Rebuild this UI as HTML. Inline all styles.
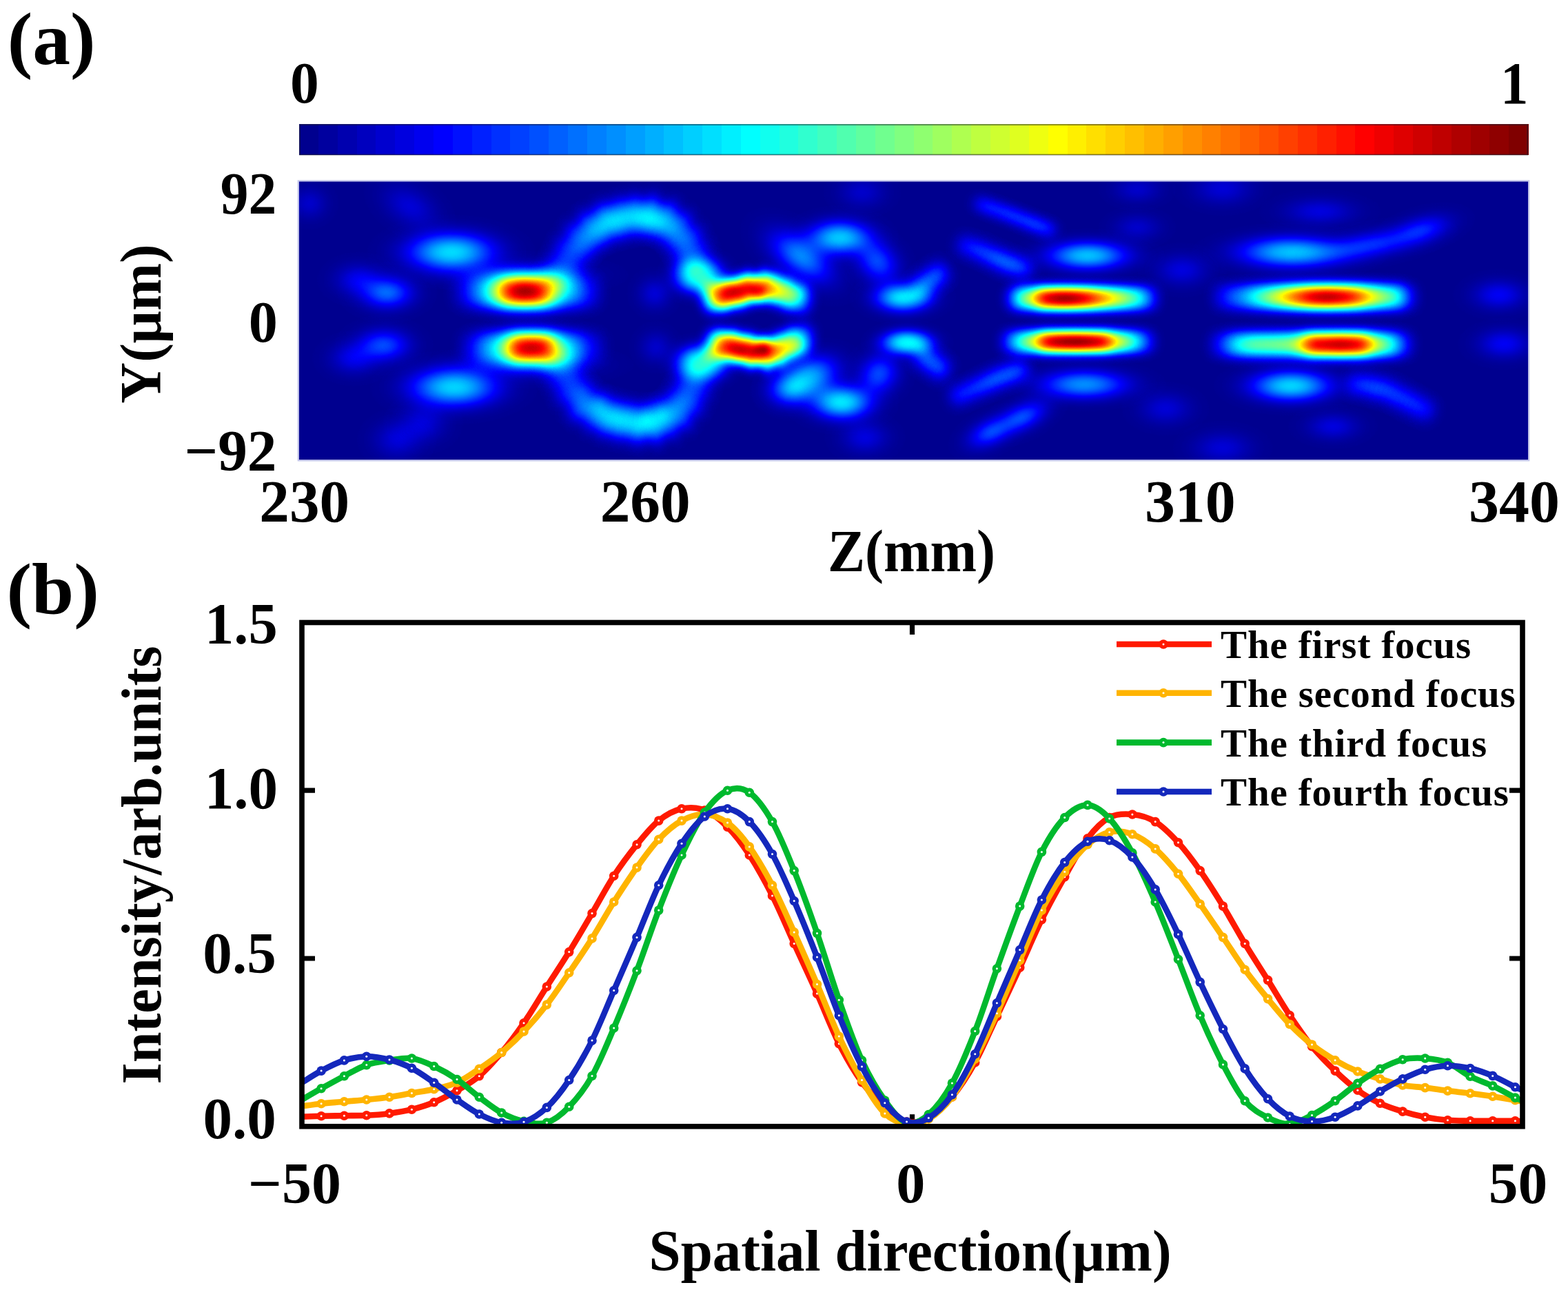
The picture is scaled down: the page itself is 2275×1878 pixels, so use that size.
<!DOCTYPE html><html><head><meta charset="utf-8"><title>figure</title><style>html,body{margin:0;padding:0;background:#fff}body{width:2275px;height:1878px;overflow:hidden;position:relative}svg{position:absolute;left:0;top:0;display:block}#hm ellipse{mix-blend-mode:plus-lighter}</style></head><body>
<svg width="2275" height="1878" viewBox="0 0 2275 1878">
<defs>
<radialGradient id="w100"><stop offset="0.000" stop-color="#fff" stop-opacity="1.0000"/><stop offset="0.042" stop-color="#fff" stop-opacity="0.9912"/><stop offset="0.083" stop-color="#fff" stop-opacity="0.9651"/><stop offset="0.125" stop-color="#fff" stop-opacity="0.9231"/><stop offset="0.167" stop-color="#fff" stop-opacity="0.8674"/><stop offset="0.208" stop-color="#fff" stop-opacity="0.8007"/><stop offset="0.250" stop-color="#fff" stop-opacity="0.7261"/><stop offset="0.292" stop-color="#fff" stop-opacity="0.6469"/><stop offset="0.333" stop-color="#fff" stop-opacity="0.5662"/><stop offset="0.375" stop-color="#fff" stop-opacity="0.4868"/><stop offset="0.417" stop-color="#fff" stop-opacity="0.4111"/><stop offset="0.458" stop-color="#fff" stop-opacity="0.3411"/><stop offset="0.500" stop-color="#fff" stop-opacity="0.2780"/><stop offset="0.542" stop-color="#fff" stop-opacity="0.2226"/><stop offset="0.583" stop-color="#fff" stop-opacity="0.1751"/><stop offset="0.625" stop-color="#fff" stop-opacity="0.1353"/><stop offset="0.667" stop-color="#fff" stop-opacity="0.1027"/><stop offset="0.708" stop-color="#fff" stop-opacity="0.0766"/><stop offset="0.750" stop-color="#fff" stop-opacity="0.0561"/><stop offset="0.792" stop-color="#fff" stop-opacity="0.0404"/><stop offset="0.833" stop-color="#fff" stop-opacity="0.0286"/><stop offset="0.875" stop-color="#fff" stop-opacity="0.0198"/><stop offset="0.917" stop-color="#fff" stop-opacity="0.0135"/><stop offset="0.958" stop-color="#fff" stop-opacity="0.0091"/><stop offset="1.000" stop-color="#fff" stop-opacity="0.0060"/></radialGradient>
<radialGradient id="w110"><stop offset="0.000" stop-color="#fff" stop-opacity="1.0000"/><stop offset="0.042" stop-color="#fff" stop-opacity="0.9945"/><stop offset="0.083" stop-color="#fff" stop-opacity="0.9749"/><stop offset="0.125" stop-color="#fff" stop-opacity="0.9397"/><stop offset="0.167" stop-color="#fff" stop-opacity="0.8896"/><stop offset="0.208" stop-color="#fff" stop-opacity="0.8260"/><stop offset="0.250" stop-color="#fff" stop-opacity="0.7516"/><stop offset="0.292" stop-color="#fff" stop-opacity="0.6698"/><stop offset="0.333" stop-color="#fff" stop-opacity="0.5841"/><stop offset="0.375" stop-color="#fff" stop-opacity="0.4982"/><stop offset="0.417" stop-color="#fff" stop-opacity="0.4154"/><stop offset="0.458" stop-color="#fff" stop-opacity="0.3384"/><stop offset="0.500" stop-color="#fff" stop-opacity="0.2693"/><stop offset="0.542" stop-color="#fff" stop-opacity="0.2092"/><stop offset="0.583" stop-color="#fff" stop-opacity="0.1586"/><stop offset="0.625" stop-color="#fff" stop-opacity="0.1172"/><stop offset="0.667" stop-color="#fff" stop-opacity="0.0845"/><stop offset="0.708" stop-color="#fff" stop-opacity="0.0594"/><stop offset="0.750" stop-color="#fff" stop-opacity="0.0407"/><stop offset="0.792" stop-color="#fff" stop-opacity="0.0272"/><stop offset="0.833" stop-color="#fff" stop-opacity="0.0177"/><stop offset="0.875" stop-color="#fff" stop-opacity="0.0112"/><stop offset="0.917" stop-color="#fff" stop-opacity="0.0069"/><stop offset="0.958" stop-color="#fff" stop-opacity="0.0041"/><stop offset="1.000" stop-color="#fff" stop-opacity="0.0024"/></radialGradient>
<radialGradient id="w110"><stop offset="0.000" stop-color="#fff" stop-opacity="1.0000"/><stop offset="0.042" stop-color="#fff" stop-opacity="0.9945"/><stop offset="0.083" stop-color="#fff" stop-opacity="0.9749"/><stop offset="0.125" stop-color="#fff" stop-opacity="0.9397"/><stop offset="0.167" stop-color="#fff" stop-opacity="0.8896"/><stop offset="0.208" stop-color="#fff" stop-opacity="0.8260"/><stop offset="0.250" stop-color="#fff" stop-opacity="0.7516"/><stop offset="0.292" stop-color="#fff" stop-opacity="0.6698"/><stop offset="0.333" stop-color="#fff" stop-opacity="0.5841"/><stop offset="0.375" stop-color="#fff" stop-opacity="0.4982"/><stop offset="0.417" stop-color="#fff" stop-opacity="0.4154"/><stop offset="0.458" stop-color="#fff" stop-opacity="0.3384"/><stop offset="0.500" stop-color="#fff" stop-opacity="0.2693"/><stop offset="0.542" stop-color="#fff" stop-opacity="0.2092"/><stop offset="0.583" stop-color="#fff" stop-opacity="0.1586"/><stop offset="0.625" stop-color="#fff" stop-opacity="0.1172"/><stop offset="0.667" stop-color="#fff" stop-opacity="0.0845"/><stop offset="0.708" stop-color="#fff" stop-opacity="0.0594"/><stop offset="0.750" stop-color="#fff" stop-opacity="0.0407"/><stop offset="0.792" stop-color="#fff" stop-opacity="0.0272"/><stop offset="0.833" stop-color="#fff" stop-opacity="0.0177"/><stop offset="0.875" stop-color="#fff" stop-opacity="0.0112"/><stop offset="0.917" stop-color="#fff" stop-opacity="0.0069"/><stop offset="0.958" stop-color="#fff" stop-opacity="0.0041"/><stop offset="1.000" stop-color="#fff" stop-opacity="0.0024"/></radialGradient>
<radialGradient id="w120"><stop offset="0.000" stop-color="#fff" stop-opacity="1.0000"/><stop offset="0.042" stop-color="#fff" stop-opacity="0.9965"/><stop offset="0.083" stop-color="#fff" stop-opacity="0.9819"/><stop offset="0.125" stop-color="#fff" stop-opacity="0.9529"/><stop offset="0.167" stop-color="#fff" stop-opacity="0.9082"/><stop offset="0.208" stop-color="#fff" stop-opacity="0.8483"/><stop offset="0.250" stop-color="#fff" stop-opacity="0.7751"/><stop offset="0.292" stop-color="#fff" stop-opacity="0.6915"/><stop offset="0.333" stop-color="#fff" stop-opacity="0.6016"/><stop offset="0.375" stop-color="#fff" stop-opacity="0.5096"/><stop offset="0.417" stop-color="#fff" stop-opacity="0.4197"/><stop offset="0.458" stop-color="#fff" stop-opacity="0.3358"/><stop offset="0.500" stop-color="#fff" stop-opacity="0.2606"/><stop offset="0.542" stop-color="#fff" stop-opacity="0.1960"/><stop offset="0.583" stop-color="#fff" stop-opacity="0.1427"/><stop offset="0.625" stop-color="#fff" stop-opacity="0.1005"/><stop offset="0.667" stop-color="#fff" stop-opacity="0.0684"/><stop offset="0.708" stop-color="#fff" stop-opacity="0.0449"/><stop offset="0.750" stop-color="#fff" stop-opacity="0.0285"/><stop offset="0.792" stop-color="#fff" stop-opacity="0.0174"/><stop offset="0.833" stop-color="#fff" stop-opacity="0.0102"/><stop offset="0.875" stop-color="#fff" stop-opacity="0.0058"/><stop offset="0.917" stop-color="#fff" stop-opacity="0.0032"/><stop offset="0.958" stop-color="#fff" stop-opacity="0.0016"/><stop offset="1.000" stop-color="#fff" stop-opacity="0.0008"/></radialGradient>
<radialGradient id="w130"><stop offset="0.000" stop-color="#fff" stop-opacity="1.0000"/><stop offset="0.042" stop-color="#fff" stop-opacity="0.9978"/><stop offset="0.083" stop-color="#fff" stop-opacity="0.9870"/><stop offset="0.125" stop-color="#fff" stop-opacity="0.9632"/><stop offset="0.167" stop-color="#fff" stop-opacity="0.9238"/><stop offset="0.208" stop-color="#fff" stop-opacity="0.8680"/><stop offset="0.250" stop-color="#fff" stop-opacity="0.7966"/><stop offset="0.292" stop-color="#fff" stop-opacity="0.7122"/><stop offset="0.333" stop-color="#fff" stop-opacity="0.6186"/><stop offset="0.375" stop-color="#fff" stop-opacity="0.5208"/><stop offset="0.417" stop-color="#fff" stop-opacity="0.4240"/><stop offset="0.458" stop-color="#fff" stop-opacity="0.3331"/><stop offset="0.500" stop-color="#fff" stop-opacity="0.2520"/><stop offset="0.542" stop-color="#fff" stop-opacity="0.1832"/><stop offset="0.583" stop-color="#fff" stop-opacity="0.1277"/><stop offset="0.625" stop-color="#fff" stop-opacity="0.0852"/><stop offset="0.667" stop-color="#fff" stop-opacity="0.0544"/><stop offset="0.708" stop-color="#fff" stop-opacity="0.0331"/><stop offset="0.750" stop-color="#fff" stop-opacity="0.0191"/><stop offset="0.792" stop-color="#fff" stop-opacity="0.0105"/><stop offset="0.833" stop-color="#fff" stop-opacity="0.0055"/><stop offset="0.875" stop-color="#fff" stop-opacity="0.0027"/><stop offset="0.917" stop-color="#fff" stop-opacity="0.0013"/><stop offset="0.958" stop-color="#fff" stop-opacity="0.0006"/><stop offset="1.000" stop-color="#fff" stop-opacity="0.0002"/></radialGradient>
<radialGradient id="w140"><stop offset="0.000" stop-color="#fff" stop-opacity="1.0000"/><stop offset="0.042" stop-color="#fff" stop-opacity="0.9987"/><stop offset="0.083" stop-color="#fff" stop-opacity="0.9907"/><stop offset="0.125" stop-color="#fff" stop-opacity="0.9713"/><stop offset="0.167" stop-color="#fff" stop-opacity="0.9369"/><stop offset="0.208" stop-color="#fff" stop-opacity="0.8854"/><stop offset="0.250" stop-color="#fff" stop-opacity="0.8164"/><stop offset="0.292" stop-color="#fff" stop-opacity="0.7317"/><stop offset="0.333" stop-color="#fff" stop-opacity="0.6351"/><stop offset="0.375" stop-color="#fff" stop-opacity="0.5319"/><stop offset="0.417" stop-color="#fff" stop-opacity="0.4283"/><stop offset="0.458" stop-color="#fff" stop-opacity="0.3304"/><stop offset="0.500" stop-color="#fff" stop-opacity="0.2435"/><stop offset="0.542" stop-color="#fff" stop-opacity="0.1707"/><stop offset="0.583" stop-color="#fff" stop-opacity="0.1136"/><stop offset="0.625" stop-color="#fff" stop-opacity="0.0714"/><stop offset="0.667" stop-color="#fff" stop-opacity="0.0424"/><stop offset="0.708" stop-color="#fff" stop-opacity="0.0236"/><stop offset="0.750" stop-color="#fff" stop-opacity="0.0123"/><stop offset="0.792" stop-color="#fff" stop-opacity="0.0060"/><stop offset="0.833" stop-color="#fff" stop-opacity="0.0027"/><stop offset="0.875" stop-color="#fff" stop-opacity="0.0011"/><stop offset="0.917" stop-color="#fff" stop-opacity="0.0004"/><stop offset="0.958" stop-color="#fff" stop-opacity="0.0002"/><stop offset="1.000" stop-color="#fff" stop-opacity="0.0001"/></radialGradient>
<filter id="jet" filterUnits="userSpaceOnUse" x="433.5" y="263.2" width="1784.0" height="404.40000000000003" color-interpolation-filters="sRGB"><feComponentTransfer><feFuncR type="table" tableValues="0.0000 0.0000 0.0000 0.0000 0.0000 0.0000 0.0000 0.0000 0.0000 0.0000 0.0000 0.0000 0.0000 0.0000 0.0000 0.0000 0.0000 0.0000 0.0000 0.0000 0.0000 0.0000 0.0000 0.0000 0.0625 0.1250 0.1875 0.2500 0.3125 0.3750 0.4375 0.5000 0.5625 0.6250 0.6875 0.7500 0.8125 0.8750 0.9375 1.0000 1.0000 1.0000 1.0000 1.0000 1.0000 1.0000 1.0000 1.0000 1.0000 1.0000 1.0000 1.0000 1.0000 1.0000 1.0000 1.0000 0.9375 0.8750 0.8125 0.7500 0.6875 0.6250 0.5625 0.5000"/><feFuncG type="table" tableValues="0.0000 0.0000 0.0000 0.0000 0.0000 0.0000 0.0000 0.0000 0.0625 0.1250 0.1875 0.2500 0.3125 0.3750 0.4375 0.5000 0.5625 0.6250 0.6875 0.7500 0.8125 0.8750 0.9375 1.0000 1.0000 1.0000 1.0000 1.0000 1.0000 1.0000 1.0000 1.0000 1.0000 1.0000 1.0000 1.0000 1.0000 1.0000 1.0000 1.0000 0.9375 0.8750 0.8125 0.7500 0.6875 0.6250 0.5625 0.5000 0.4375 0.3750 0.3125 0.2500 0.1875 0.1250 0.0625 0.0000 0.0000 0.0000 0.0000 0.0000 0.0000 0.0000 0.0000 0.0000"/><feFuncB type="table" tableValues="0.5625 0.6250 0.6875 0.7500 0.8125 0.8750 0.9375 1.0000 1.0000 1.0000 1.0000 1.0000 1.0000 1.0000 1.0000 1.0000 1.0000 1.0000 1.0000 1.0000 1.0000 1.0000 1.0000 1.0000 0.9375 0.8750 0.8125 0.7500 0.6875 0.6250 0.5625 0.5000 0.4375 0.3750 0.3125 0.2500 0.1875 0.1250 0.0625 0.0000 0.0000 0.0000 0.0000 0.0000 0.0000 0.0000 0.0000 0.0000 0.0000 0.0000 0.0000 0.0000 0.0000 0.0000 0.0000 0.0000 0.0000 0.0000 0.0000 0.0000 0.0000 0.0000 0.0000 0.0000"/><feFuncA type="identity"/></feComponentTransfer></filter>
<clipPath id="hmclip"><rect x="433.5" y="263.2" width="1784.0" height="404.40000000000003"/></clipPath>
<clipPath id="axclip"><rect x="438" y="883.5" width="1771" height="751.3"/></clipPath>
</defs>
<rect width="100%" height="100%" fill="#fff"/>
<g shape-rendering="crispEdges">
<rect x="434.00" y="180.2" width="28.46" height="45.20" fill="#00008f"/>
<rect x="461.86" y="180.2" width="28.46" height="45.20" fill="#00009f"/>
<rect x="489.73" y="180.2" width="28.46" height="45.20" fill="#0000af"/>
<rect x="517.59" y="180.2" width="28.46" height="45.20" fill="#0000bf"/>
<rect x="545.45" y="180.2" width="28.46" height="45.20" fill="#0000cf"/>
<rect x="573.31" y="180.2" width="28.46" height="45.20" fill="#0000df"/>
<rect x="601.17" y="180.2" width="28.46" height="45.20" fill="#0000ef"/>
<rect x="629.04" y="180.2" width="28.46" height="45.20" fill="#0000ff"/>
<rect x="656.90" y="180.2" width="28.46" height="45.20" fill="#0010ff"/>
<rect x="684.76" y="180.2" width="28.46" height="45.20" fill="#0020ff"/>
<rect x="712.62" y="180.2" width="28.46" height="45.20" fill="#0030ff"/>
<rect x="740.49" y="180.2" width="28.46" height="45.20" fill="#0040ff"/>
<rect x="768.35" y="180.2" width="28.46" height="45.20" fill="#0050ff"/>
<rect x="796.21" y="180.2" width="28.46" height="45.20" fill="#0060ff"/>
<rect x="824.07" y="180.2" width="28.46" height="45.20" fill="#0070ff"/>
<rect x="851.94" y="180.2" width="28.46" height="45.20" fill="#0080ff"/>
<rect x="879.80" y="180.2" width="28.46" height="45.20" fill="#008fff"/>
<rect x="907.66" y="180.2" width="28.46" height="45.20" fill="#009fff"/>
<rect x="935.52" y="180.2" width="28.46" height="45.20" fill="#00afff"/>
<rect x="963.39" y="180.2" width="28.46" height="45.20" fill="#00bfff"/>
<rect x="991.25" y="180.2" width="28.46" height="45.20" fill="#00cfff"/>
<rect x="1019.11" y="180.2" width="28.46" height="45.20" fill="#00dfff"/>
<rect x="1046.97" y="180.2" width="28.46" height="45.20" fill="#00efff"/>
<rect x="1074.84" y="180.2" width="28.46" height="45.20" fill="#00ffff"/>
<rect x="1102.70" y="180.2" width="28.46" height="45.20" fill="#10ffef"/>
<rect x="1130.56" y="180.2" width="28.46" height="45.20" fill="#20ffdf"/>
<rect x="1158.42" y="180.2" width="28.46" height="45.20" fill="#30ffcf"/>
<rect x="1186.29" y="180.2" width="28.46" height="45.20" fill="#40ffbf"/>
<rect x="1214.15" y="180.2" width="28.46" height="45.20" fill="#50ffaf"/>
<rect x="1242.01" y="180.2" width="28.46" height="45.20" fill="#60ff9f"/>
<rect x="1269.88" y="180.2" width="28.46" height="45.20" fill="#70ff8f"/>
<rect x="1297.74" y="180.2" width="28.46" height="45.20" fill="#80ff80"/>
<rect x="1325.60" y="180.2" width="28.46" height="45.20" fill="#8fff70"/>
<rect x="1353.46" y="180.2" width="28.46" height="45.20" fill="#9fff60"/>
<rect x="1381.32" y="180.2" width="28.46" height="45.20" fill="#afff50"/>
<rect x="1409.19" y="180.2" width="28.46" height="45.20" fill="#bfff40"/>
<rect x="1437.05" y="180.2" width="28.46" height="45.20" fill="#cfff30"/>
<rect x="1464.91" y="180.2" width="28.46" height="45.20" fill="#dfff20"/>
<rect x="1492.77" y="180.2" width="28.46" height="45.20" fill="#efff10"/>
<rect x="1520.64" y="180.2" width="28.46" height="45.20" fill="#ffff00"/>
<rect x="1548.50" y="180.2" width="28.46" height="45.20" fill="#ffef00"/>
<rect x="1576.36" y="180.2" width="28.46" height="45.20" fill="#ffdf00"/>
<rect x="1604.22" y="180.2" width="28.46" height="45.20" fill="#ffcf00"/>
<rect x="1632.09" y="180.2" width="28.46" height="45.20" fill="#ffbf00"/>
<rect x="1659.95" y="180.2" width="28.46" height="45.20" fill="#ffaf00"/>
<rect x="1687.81" y="180.2" width="28.46" height="45.20" fill="#ff9f00"/>
<rect x="1715.67" y="180.2" width="28.46" height="45.20" fill="#ff8f00"/>
<rect x="1743.54" y="180.2" width="28.46" height="45.20" fill="#ff8000"/>
<rect x="1771.40" y="180.2" width="28.46" height="45.20" fill="#ff7000"/>
<rect x="1799.26" y="180.2" width="28.46" height="45.20" fill="#ff6000"/>
<rect x="1827.12" y="180.2" width="28.46" height="45.20" fill="#ff5000"/>
<rect x="1854.99" y="180.2" width="28.46" height="45.20" fill="#ff4000"/>
<rect x="1882.85" y="180.2" width="28.46" height="45.20" fill="#ff3000"/>
<rect x="1910.71" y="180.2" width="28.46" height="45.20" fill="#ff2000"/>
<rect x="1938.57" y="180.2" width="28.46" height="45.20" fill="#ff1000"/>
<rect x="1966.44" y="180.2" width="28.46" height="45.20" fill="#ff0000"/>
<rect x="1994.30" y="180.2" width="28.46" height="45.20" fill="#ef0000"/>
<rect x="2022.16" y="180.2" width="28.46" height="45.20" fill="#df0000"/>
<rect x="2050.02" y="180.2" width="28.46" height="45.20" fill="#cf0000"/>
<rect x="2077.89" y="180.2" width="28.46" height="45.20" fill="#bf0000"/>
<rect x="2105.75" y="180.2" width="28.46" height="45.20" fill="#af0000"/>
<rect x="2133.61" y="180.2" width="28.46" height="45.20" fill="#9f0000"/>
<rect x="2161.47" y="180.2" width="28.46" height="45.20" fill="#8f0000"/>
<rect x="2189.34" y="180.2" width="28.46" height="45.20" fill="#800000"/>
</g>
<rect x="435.0" y="181.1" width="1781.1999999999998" height="43.40000000000002" fill="none" stroke="#202030" stroke-opacity="0.55" stroke-width="1.8"/>
<g clip-path="url(#hmclip)"><g id="hm" filter="url(#jet)">
<rect x="433.5" y="263.2" width="1784.0" height="404.40000000000003" fill="#000"/>
<ellipse cx="657.0" cy="424.0" rx="28.8" ry="59.2" fill="url(#w140)" fill-opacity="0.0086"/>
<ellipse cx="663.9" cy="424.0" rx="28.8" ry="59.2" fill="url(#w140)" fill-opacity="0.0171"/>
<ellipse cx="670.9" cy="424.0" rx="28.8" ry="59.2" fill="url(#w140)" fill-opacity="0.0266"/>
<ellipse cx="677.9" cy="424.0" rx="28.8" ry="59.2" fill="url(#w140)" fill-opacity="0.0417"/>
<ellipse cx="684.8" cy="424.0" rx="28.8" ry="59.2" fill="url(#w140)" fill-opacity="0.0568"/>
<ellipse cx="691.8" cy="424.0" rx="28.8" ry="59.2" fill="url(#w140)" fill-opacity="0.0729"/>
<ellipse cx="698.8" cy="424.0" rx="28.8" ry="59.2" fill="url(#w140)" fill-opacity="0.0894"/>
<ellipse cx="705.8" cy="424.0" rx="28.8" ry="59.2" fill="url(#w140)" fill-opacity="0.1088"/>
<ellipse cx="712.7" cy="424.0" rx="28.8" ry="59.2" fill="url(#w140)" fill-opacity="0.1355"/>
<ellipse cx="719.7" cy="424.0" rx="28.8" ry="59.2" fill="url(#w140)" fill-opacity="0.1667"/>
<ellipse cx="726.7" cy="424.0" rx="28.8" ry="59.2" fill="url(#w140)" fill-opacity="0.2029"/>
<ellipse cx="733.6" cy="424.0" rx="28.8" ry="59.2" fill="url(#w140)" fill-opacity="0.2433"/>
<ellipse cx="740.6" cy="424.0" rx="28.8" ry="59.2" fill="url(#w140)" fill-opacity="0.2711"/>
<ellipse cx="747.6" cy="424.0" rx="28.8" ry="59.2" fill="url(#w140)" fill-opacity="0.2799"/>
<ellipse cx="754.5" cy="424.0" rx="28.8" ry="59.2" fill="url(#w140)" fill-opacity="0.2888"/>
<ellipse cx="761.5" cy="424.0" rx="28.8" ry="59.2" fill="url(#w140)" fill-opacity="0.2976"/>
<ellipse cx="768.5" cy="424.0" rx="28.8" ry="59.2" fill="url(#w140)" fill-opacity="0.29"/>
<ellipse cx="775.5" cy="424.0" rx="28.8" ry="59.2" fill="url(#w140)" fill-opacity="0.2812"/>
<ellipse cx="782.4" cy="424.0" rx="28.8" ry="59.2" fill="url(#w140)" fill-opacity="0.2723"/>
<ellipse cx="789.4" cy="424.0" rx="28.8" ry="59.2" fill="url(#w140)" fill-opacity="0.2479"/>
<ellipse cx="796.4" cy="424.0" rx="28.8" ry="59.2" fill="url(#w140)" fill-opacity="0.2091"/>
<ellipse cx="803.3" cy="424.0" rx="28.8" ry="59.2" fill="url(#w140)" fill-opacity="0.1714"/>
<ellipse cx="810.3" cy="424.0" rx="28.8" ry="59.2" fill="url(#w140)" fill-opacity="0.1396"/>
<ellipse cx="817.3" cy="424.0" rx="28.8" ry="59.2" fill="url(#w140)" fill-opacity="0.112"/>
<ellipse cx="824.2" cy="424.0" rx="28.8" ry="59.2" fill="url(#w140)" fill-opacity="0.0942"/>
<ellipse cx="831.2" cy="424.0" rx="28.8" ry="59.2" fill="url(#w140)" fill-opacity="0.0843"/>
<ellipse cx="838.2" cy="424.0" rx="28.8" ry="59.2" fill="url(#w140)" fill-opacity="0.0742"/>
<ellipse cx="845.2" cy="424.0" rx="28.8" ry="59.2" fill="url(#w140)" fill-opacity="0.0584"/>
<ellipse cx="852.1" cy="424.0" rx="28.8" ry="59.2" fill="url(#w140)" fill-opacity="0.0427"/>
<ellipse cx="859.1" cy="424.0" rx="28.8" ry="59.2" fill="url(#w140)" fill-opacity="0.0301"/>
<ellipse cx="866.1" cy="424.0" rx="28.8" ry="59.2" fill="url(#w140)" fill-opacity="0.0187"/>
<ellipse cx="873.0" cy="424.0" rx="28.8" ry="59.2" fill="url(#w140)" fill-opacity="0.0086"/>
<ellipse cx="762" cy="399" rx="166.4" ry="38.4" fill="url(#w100)" fill-opacity="0.12"/>
<ellipse cx="667.0" cy="504.0" rx="28.8" ry="57.6" fill="url(#w140)" fill-opacity="0.0087"/>
<ellipse cx="674.1" cy="504.0" rx="28.8" ry="57.6" fill="url(#w140)" fill-opacity="0.0174"/>
<ellipse cx="681.1" cy="504.0" rx="28.8" ry="57.6" fill="url(#w140)" fill-opacity="0.0272"/>
<ellipse cx="688.1" cy="504.0" rx="28.8" ry="57.6" fill="url(#w140)" fill-opacity="0.0426"/>
<ellipse cx="695.2" cy="504.0" rx="28.8" ry="57.6" fill="url(#w140)" fill-opacity="0.058"/>
<ellipse cx="702.2" cy="504.0" rx="28.8" ry="57.6" fill="url(#w140)" fill-opacity="0.0744"/>
<ellipse cx="709.2" cy="504.0" rx="28.8" ry="57.6" fill="url(#w140)" fill-opacity="0.0912"/>
<ellipse cx="716.2" cy="504.0" rx="28.8" ry="57.6" fill="url(#w140)" fill-opacity="0.1052"/>
<ellipse cx="723.3" cy="504.0" rx="28.8" ry="57.6" fill="url(#w140)" fill-opacity="0.1218"/>
<ellipse cx="730.3" cy="504.0" rx="28.8" ry="57.6" fill="url(#w140)" fill-opacity="0.1521"/>
<ellipse cx="737.3" cy="504.0" rx="28.8" ry="57.6" fill="url(#w140)" fill-opacity="0.1902"/>
<ellipse cx="744.4" cy="504.0" rx="28.8" ry="57.6" fill="url(#w140)" fill-opacity="0.2347"/>
<ellipse cx="751.4" cy="504.0" rx="28.8" ry="57.6" fill="url(#w140)" fill-opacity="0.2718"/>
<ellipse cx="758.4" cy="504.0" rx="28.8" ry="57.6" fill="url(#w140)" fill-opacity="0.2778"/>
<ellipse cx="765.5" cy="504.0" rx="28.8" ry="57.6" fill="url(#w140)" fill-opacity="0.2838"/>
<ellipse cx="772.5" cy="504.0" rx="28.8" ry="57.6" fill="url(#w140)" fill-opacity="0.2872"/>
<ellipse cx="779.5" cy="504.0" rx="28.8" ry="57.6" fill="url(#w140)" fill-opacity="0.2812"/>
<ellipse cx="786.6" cy="504.0" rx="28.8" ry="57.6" fill="url(#w140)" fill-opacity="0.2752"/>
<ellipse cx="793.6" cy="504.0" rx="28.8" ry="57.6" fill="url(#w140)" fill-opacity="0.2571"/>
<ellipse cx="800.6" cy="504.0" rx="28.8" ry="57.6" fill="url(#w140)" fill-opacity="0.2157"/>
<ellipse cx="807.7" cy="504.0" rx="28.8" ry="57.6" fill="url(#w140)" fill-opacity="0.1736"/>
<ellipse cx="814.7" cy="504.0" rx="28.8" ry="57.6" fill="url(#w140)" fill-opacity="0.1392"/>
<ellipse cx="821.7" cy="504.0" rx="28.8" ry="57.6" fill="url(#w140)" fill-opacity="0.1123"/>
<ellipse cx="828.8" cy="504.0" rx="28.8" ry="57.6" fill="url(#w140)" fill-opacity="0.096"/>
<ellipse cx="835.8" cy="504.0" rx="28.8" ry="57.6" fill="url(#w140)" fill-opacity="0.082"/>
<ellipse cx="842.8" cy="504.0" rx="28.8" ry="57.6" fill="url(#w140)" fill-opacity="0.0686"/>
<ellipse cx="849.8" cy="504.0" rx="28.8" ry="57.6" fill="url(#w140)" fill-opacity="0.0527"/>
<ellipse cx="856.9" cy="504.0" rx="28.8" ry="57.6" fill="url(#w140)" fill-opacity="0.0367"/>
<ellipse cx="863.9" cy="504.0" rx="28.8" ry="57.6" fill="url(#w140)" fill-opacity="0.0255"/>
<ellipse cx="870.9" cy="504.0" rx="28.8" ry="57.6" fill="url(#w140)" fill-opacity="0.0152"/>
<ellipse cx="878.0" cy="504.0" rx="28.8" ry="57.6" fill="url(#w140)" fill-opacity="0.0065"/>
<ellipse cx="770" cy="529" rx="166.4" ry="38.4" fill="url(#w100)" fill-opacity="0.12"/>
<ellipse cx="655" cy="366" rx="131.3" ry="58.6" fill="url(#w110)" fill-opacity="0.33"/>
<ellipse cx="659" cy="562" rx="131.3" ry="58.6" fill="url(#w110)" fill-opacity="0.32"/>
<ellipse cx="562" cy="425" rx="76.0" ry="46.8" fill="url(#w100)" fill-opacity="0.21"/>
<ellipse cx="557" cy="501" rx="76.0" ry="46.8" fill="url(#w100)" fill-opacity="0.18"/>
<ellipse cx="520" cy="406" rx="69.1" ry="46.8" fill="url(#w100)" fill-opacity="0.09"/>
<ellipse cx="513" cy="520" rx="69.1" ry="46.8" fill="url(#w100)" fill-opacity="0.09"/>
<ellipse cx="595" cy="300" rx="86.4" ry="54.7" fill="url(#w100)" fill-opacity="0.07" transform="rotate(30 595 300)"/>
<ellipse cx="449" cy="295" rx="51.8" ry="46.8" fill="url(#w100)" fill-opacity="0.06"/>
<ellipse cx="576" cy="638" rx="69.1" ry="54.7" fill="url(#w100)" fill-opacity="0.07"/>
<ellipse cx="614" cy="614" rx="69.1" ry="54.7" fill="url(#w100)" fill-opacity="0.07"/>
<ellipse cx="803.7" cy="412.1" rx="28.8" ry="60.8" fill="url(#w120)" fill-opacity="0.0317" transform="rotate(-58.0 803.7 412.1)"/>
<ellipse cx="807.2" cy="406.1" rx="28.8" ry="60.8" fill="url(#w120)" fill-opacity="0.0438" transform="rotate(-60.6 807.2 406.1)"/>
<ellipse cx="810.6" cy="400.1" rx="28.8" ry="60.8" fill="url(#w120)" fill-opacity="0.045" transform="rotate(-60.6 810.6 400.1)"/>
<ellipse cx="814.0" cy="394.0" rx="28.8" ry="60.8" fill="url(#w120)" fill-opacity="0.0461" transform="rotate(-60.6 814.0 394.0)"/>
<ellipse cx="817.2" cy="387.9" rx="28.8" ry="60.8" fill="url(#w120)" fill-opacity="0.0481" transform="rotate(-62.2 817.2 387.9)"/>
<ellipse cx="820.5" cy="381.7" rx="28.8" ry="60.8" fill="url(#w120)" fill-opacity="0.0501" transform="rotate(-62.2 820.5 381.7)"/>
<ellipse cx="823.7" cy="375.6" rx="28.8" ry="60.8" fill="url(#w120)" fill-opacity="0.0521" transform="rotate(-62.2 823.7 375.6)"/>
<ellipse cx="827.1" cy="369.6" rx="28.8" ry="60.8" fill="url(#w120)" fill-opacity="0.0555" transform="rotate(-60.3 827.1 369.6)"/>
<ellipse cx="830.6" cy="363.5" rx="28.8" ry="60.8" fill="url(#w120)" fill-opacity="0.059" transform="rotate(-60.3 830.6 363.5)"/>
<ellipse cx="834.0" cy="357.5" rx="28.8" ry="60.8" fill="url(#w120)" fill-opacity="0.0625" transform="rotate(-60.3 834.0 357.5)"/>
<ellipse cx="838.0" cy="351.9" rx="28.8" ry="60.8" fill="url(#w120)" fill-opacity="0.0665" transform="rotate(-46.7 838.0 351.9)"/>
<ellipse cx="842.7" cy="346.8" rx="28.8" ry="60.8" fill="url(#w120)" fill-opacity="0.0711" transform="rotate(-46.7 842.7 346.8)"/>
<ellipse cx="847.5" cy="341.8" rx="28.8" ry="60.8" fill="url(#w120)" fill-opacity="0.0757" transform="rotate(-46.7 847.5 341.8)"/>
<ellipse cx="852.3" cy="336.8" rx="28.8" ry="60.8" fill="url(#w120)" fill-opacity="0.0803" transform="rotate(-31.4 852.3 336.8)"/>
<ellipse cx="858.3" cy="333.2" rx="28.8" ry="60.8" fill="url(#w120)" fill-opacity="0.0853" transform="rotate(-31.4 858.3 333.2)"/>
<ellipse cx="864.2" cy="329.6" rx="28.8" ry="60.8" fill="url(#w120)" fill-opacity="0.0904" transform="rotate(-31.4 864.2 329.6)"/>
<ellipse cx="870.1" cy="326.0" rx="28.8" ry="60.8" fill="url(#w120)" fill-opacity="0.0954" transform="rotate(-19.3 870.1 326.0)"/>
<ellipse cx="876.7" cy="323.7" rx="28.8" ry="60.8" fill="url(#w120)" fill-opacity="0.0984" transform="rotate(-19.3 876.7 323.7)"/>
<ellipse cx="883.2" cy="321.4" rx="28.8" ry="60.8" fill="url(#w120)" fill-opacity="0.1015" transform="rotate(-19.3 883.2 321.4)"/>
<ellipse cx="889.8" cy="319.1" rx="28.8" ry="60.8" fill="url(#w120)" fill-opacity="0.1045" transform="rotate(-19.3 889.8 319.1)"/>
<ellipse cx="896.5" cy="317.5" rx="28.8" ry="60.8" fill="url(#w120)" fill-opacity="0.1028" transform="rotate(-12.8 896.5 317.5)"/>
<ellipse cx="903.3" cy="316.0" rx="28.8" ry="60.8" fill="url(#w120)" fill-opacity="0.1009" transform="rotate(-12.8 903.3 316.0)"/>
<ellipse cx="910.1" cy="314.4" rx="28.8" ry="60.8" fill="url(#w120)" fill-opacity="0.099" transform="rotate(-12.8 910.1 314.4)"/>
<ellipse cx="916.9" cy="313.4" rx="28.8" ry="60.8" fill="url(#w120)" fill-opacity="0.1004" transform="rotate(-7.4 916.9 313.4)"/>
<ellipse cx="923.8" cy="312.5" rx="28.8" ry="60.8" fill="url(#w120)" fill-opacity="0.1032" transform="rotate(-7.4 923.8 312.5)"/>
<ellipse cx="930.7" cy="311.6" rx="28.8" ry="60.8" fill="url(#w120)" fill-opacity="0.1059" transform="rotate(-7.4 930.7 311.6)"/>
<ellipse cx="937.6" cy="311.4" rx="28.8" ry="60.8" fill="url(#w120)" fill-opacity="0.1069" transform="rotate(8.1 937.6 311.4)"/>
<ellipse cx="944.4" cy="312.3" rx="28.8" ry="60.8" fill="url(#w120)" fill-opacity="0.1049" transform="rotate(8.1 944.4 312.3)"/>
<ellipse cx="951.3" cy="313.3" rx="28.8" ry="60.8" fill="url(#w120)" fill-opacity="0.1029" transform="rotate(8.1 951.3 313.3)"/>
<ellipse cx="957.9" cy="315.1" rx="28.8" ry="60.8" fill="url(#w120)" fill-opacity="0.0999" transform="rotate(29.1 957.9 315.1)"/>
<ellipse cx="964.0" cy="318.4" rx="28.8" ry="60.8" fill="url(#w120)" fill-opacity="0.0947" transform="rotate(29.1 964.0 318.4)"/>
<ellipse cx="970.1" cy="321.8" rx="28.8" ry="60.8" fill="url(#w120)" fill-opacity="0.0895" transform="rotate(29.1 970.1 321.8)"/>
<ellipse cx="975.7" cy="325.7" rx="28.8" ry="60.8" fill="url(#w120)" fill-opacity="0.0846" transform="rotate(45.0 975.7 325.7)"/>
<ellipse cx="980.6" cy="330.6" rx="28.8" ry="60.8" fill="url(#w120)" fill-opacity="0.0803" transform="rotate(45.0 980.6 330.6)"/>
<ellipse cx="985.5" cy="335.5" rx="28.8" ry="60.8" fill="url(#w120)" fill-opacity="0.076" transform="rotate(45.0 985.5 335.5)"/>
<ellipse cx="989.8" cy="341.0" rx="28.8" ry="60.8" fill="url(#w120)" fill-opacity="0.0722" transform="rotate(59.5 989.8 341.0)"/>
<ellipse cx="993.3" cy="347.0" rx="28.8" ry="60.8" fill="url(#w120)" fill-opacity="0.069" transform="rotate(59.5 993.3 347.0)"/>
<ellipse cx="996.8" cy="352.9" rx="28.8" ry="60.8" fill="url(#w120)" fill-opacity="0.0657" transform="rotate(59.5 996.8 352.9)"/>
<ellipse cx="999.8" cy="359.2" rx="28.8" ry="60.8" fill="url(#w120)" fill-opacity="0.0619" transform="rotate(67.2 999.8 359.2)"/>
<ellipse cx="1002.5" cy="365.6" rx="28.8" ry="60.8" fill="url(#w120)" fill-opacity="0.0577" transform="rotate(67.2 1002.5 365.6)"/>
<ellipse cx="1005.2" cy="372.0" rx="28.8" ry="60.8" fill="url(#w120)" fill-opacity="0.0536" transform="rotate(67.2 1005.2 372.0)"/>
<ellipse cx="1007.6" cy="378.5" rx="28.8" ry="60.8" fill="url(#w120)" fill-opacity="0.0435" transform="rotate(70.0 1007.6 378.5)"/>
<ellipse cx="1010.0" cy="385.0" rx="28.8" ry="60.8" fill="url(#w120)" fill-opacity="0.0308" transform="rotate(70.0 1010.0 385.0)"/>
<ellipse cx="804.7" cy="518.0" rx="28.8" ry="60.8" fill="url(#w120)" fill-opacity="0.0329" transform="rotate(58.0 804.7 518.0)"/>
<ellipse cx="808.2" cy="524.2" rx="28.8" ry="60.8" fill="url(#w120)" fill-opacity="0.0447" transform="rotate(62.1 808.2 524.2)"/>
<ellipse cx="811.5" cy="530.4" rx="28.8" ry="60.8" fill="url(#w120)" fill-opacity="0.0458" transform="rotate(62.1 811.5 530.4)"/>
<ellipse cx="814.8" cy="536.7" rx="28.8" ry="60.8" fill="url(#w120)" fill-opacity="0.047" transform="rotate(62.1 814.8 536.7)"/>
<ellipse cx="818.0" cy="543.0" rx="28.8" ry="60.8" fill="url(#w120)" fill-opacity="0.0489" transform="rotate(63.4 818.0 543.0)"/>
<ellipse cx="821.2" cy="549.3" rx="28.8" ry="60.8" fill="url(#w120)" fill-opacity="0.0509" transform="rotate(63.4 821.2 549.3)"/>
<ellipse cx="824.3" cy="555.6" rx="28.8" ry="60.8" fill="url(#w120)" fill-opacity="0.0529" transform="rotate(63.4 824.3 555.6)"/>
<ellipse cx="827.9" cy="561.7" rx="28.8" ry="60.8" fill="url(#w120)" fill-opacity="0.0561" transform="rotate(58.2 827.9 561.7)"/>
<ellipse cx="831.6" cy="567.7" rx="28.8" ry="60.8" fill="url(#w120)" fill-opacity="0.0597" transform="rotate(58.2 831.6 567.7)"/>
<ellipse cx="835.4" cy="573.8" rx="28.8" ry="60.8" fill="url(#w120)" fill-opacity="0.0633" transform="rotate(58.2 835.4 573.8)"/>
<ellipse cx="839.5" cy="579.4" rx="28.8" ry="60.8" fill="url(#w120)" fill-opacity="0.0672" transform="rotate(43.3 839.5 579.4)"/>
<ellipse cx="844.7" cy="584.3" rx="28.8" ry="60.8" fill="url(#w120)" fill-opacity="0.072" transform="rotate(43.3 844.7 584.3)"/>
<ellipse cx="849.8" cy="589.1" rx="28.8" ry="60.8" fill="url(#w120)" fill-opacity="0.0767" transform="rotate(43.3 849.8 589.1)"/>
<ellipse cx="855.0" cy="594.0" rx="28.8" ry="60.8" fill="url(#w120)" fill-opacity="0.0815" transform="rotate(43.3 855.0 594.0)"/>
<ellipse cx="861.3" cy="597.1" rx="28.8" ry="60.8" fill="url(#w120)" fill-opacity="0.087" transform="rotate(26.6 861.3 597.1)"/>
<ellipse cx="867.6" cy="600.3" rx="28.8" ry="60.8" fill="url(#w120)" fill-opacity="0.0925" transform="rotate(26.6 867.6 600.3)"/>
<ellipse cx="874.0" cy="603.3" rx="28.8" ry="60.8" fill="url(#w120)" fill-opacity="0.0976" transform="rotate(16.7 874.0 603.3)"/>
<ellipse cx="880.8" cy="605.3" rx="28.8" ry="60.8" fill="url(#w120)" fill-opacity="0.1008" transform="rotate(16.7 880.8 605.3)"/>
<ellipse cx="887.6" cy="607.4" rx="28.8" ry="60.8" fill="url(#w120)" fill-opacity="0.104" transform="rotate(16.7 887.6 607.4)"/>
<ellipse cx="894.4" cy="609.3" rx="28.8" ry="60.8" fill="url(#w120)" fill-opacity="0.1064" transform="rotate(12.8 894.4 609.3)"/>
<ellipse cx="901.3" cy="610.9" rx="28.8" ry="60.8" fill="url(#w120)" fill-opacity="0.1054" transform="rotate(12.8 901.3 610.9)"/>
<ellipse cx="908.2" cy="612.4" rx="28.8" ry="60.8" fill="url(#w120)" fill-opacity="0.1044" transform="rotate(12.8 908.2 612.4)"/>
<ellipse cx="915.1" cy="614.0" rx="28.8" ry="60.8" fill="url(#w120)" fill-opacity="0.1035" transform="rotate(7.4 915.1 614.0)"/>
<ellipse cx="922.1" cy="614.9" rx="28.8" ry="60.8" fill="url(#w120)" fill-opacity="0.1063" transform="rotate(7.4 922.1 614.9)"/>
<ellipse cx="929.1" cy="615.8" rx="28.8" ry="60.8" fill="url(#w120)" fill-opacity="0.1092" transform="rotate(7.4 929.1 615.8)"/>
<ellipse cx="936.1" cy="616.8" rx="28.8" ry="60.8" fill="url(#w120)" fill-opacity="0.1121" transform="rotate(7.4 936.1 616.8)"/>
<ellipse cx="943.1" cy="616.2" rx="28.8" ry="60.8" fill="url(#w120)" fill-opacity="0.1104" transform="rotate(-8.5 943.1 616.2)"/>
<ellipse cx="950.1" cy="615.2" rx="28.8" ry="60.8" fill="url(#w120)" fill-opacity="0.1072" transform="rotate(-8.5 950.1 615.2)"/>
<ellipse cx="957.1" cy="614.1" rx="28.8" ry="60.8" fill="url(#w120)" fill-opacity="0.1039" transform="rotate(-8.5 957.1 614.1)"/>
<ellipse cx="963.5" cy="611.2" rx="28.8" ry="60.8" fill="url(#w120)" fill-opacity="0.0987" transform="rotate(-26.6 963.5 611.2)"/>
<ellipse cx="969.8" cy="608.1" rx="28.8" ry="60.8" fill="url(#w120)" fill-opacity="0.0931" transform="rotate(-26.6 969.8 608.1)"/>
<ellipse cx="976.1" cy="604.9" rx="28.8" ry="60.8" fill="url(#w120)" fill-opacity="0.0877" transform="rotate(-45.0 976.1 604.9)"/>
<ellipse cx="981.1" cy="599.9" rx="28.8" ry="60.8" fill="url(#w120)" fill-opacity="0.0832" transform="rotate(-45.0 981.1 599.9)"/>
<ellipse cx="986.1" cy="594.9" rx="28.8" ry="60.8" fill="url(#w120)" fill-opacity="0.0787" transform="rotate(-45.0 986.1 594.9)"/>
<ellipse cx="990.8" cy="589.6" rx="28.8" ry="60.8" fill="url(#w120)" fill-opacity="0.0745" transform="rotate(-59.5 990.8 589.6)"/>
<ellipse cx="994.4" cy="583.5" rx="28.8" ry="60.8" fill="url(#w120)" fill-opacity="0.0711" transform="rotate(-59.5 994.4 583.5)"/>
<ellipse cx="998.0" cy="577.4" rx="28.8" ry="60.8" fill="url(#w120)" fill-opacity="0.0677" transform="rotate(-59.5 998.0 577.4)"/>
<ellipse cx="1001.2" cy="571.2" rx="28.8" ry="60.8" fill="url(#w120)" fill-opacity="0.0639" transform="rotate(-67.2 1001.2 571.2)"/>
<ellipse cx="1003.9" cy="564.6" rx="28.8" ry="60.8" fill="url(#w120)" fill-opacity="0.0596" transform="rotate(-67.2 1003.9 564.6)"/>
<ellipse cx="1006.7" cy="558.1" rx="28.8" ry="60.8" fill="url(#w120)" fill-opacity="0.0553" transform="rotate(-67.2 1006.7 558.1)"/>
<ellipse cx="1009.4" cy="551.6" rx="28.8" ry="60.8" fill="url(#w120)" fill-opacity="0.0458" transform="rotate(-68.2 1009.4 551.6)"/>
<ellipse cx="1012.0" cy="545.0" rx="28.8" ry="60.8" fill="url(#w120)" fill-opacity="0.0313" transform="rotate(-68.2 1012.0 545.0)"/>
<ellipse cx="950" cy="426" rx="48.4" ry="46.8" fill="url(#w100)" fill-opacity="0.07"/>
<ellipse cx="952" cy="504" rx="48.4" ry="46.8" fill="url(#w100)" fill-opacity="0.06"/>
<ellipse cx="1021.8" cy="434.6" rx="28.8" ry="51.2" fill="url(#w140)" fill-opacity="0.0737" transform="rotate(-11.3 1021.8 434.6)"/>
<ellipse cx="1028.7" cy="433.3" rx="28.8" ry="51.2" fill="url(#w140)" fill-opacity="0.1384" transform="rotate(-11.3 1028.7 433.3)"/>
<ellipse cx="1035.5" cy="431.9" rx="28.8" ry="51.2" fill="url(#w140)" fill-opacity="0.1946" transform="rotate(-11.3 1035.5 431.9)"/>
<ellipse cx="1042.4" cy="430.5" rx="28.8" ry="51.2" fill="url(#w140)" fill-opacity="0.243" transform="rotate(-11.3 1042.4 430.5)"/>
<ellipse cx="1049.2" cy="429.3" rx="28.8" ry="51.2" fill="url(#w140)" fill-opacity="0.2678" transform="rotate(-10.0 1049.2 429.3)"/>
<ellipse cx="1056.1" cy="428.0" rx="28.8" ry="51.2" fill="url(#w140)" fill-opacity="0.2777" transform="rotate(-10.0 1056.1 428.0)"/>
<ellipse cx="1062.9" cy="426.7" rx="28.8" ry="51.2" fill="url(#w140)" fill-opacity="0.2858" transform="rotate(-18.4 1062.9 426.7)"/>
<ellipse cx="1069.6" cy="424.5" rx="28.8" ry="51.2" fill="url(#w140)" fill-opacity="0.2824" transform="rotate(-18.4 1069.6 424.5)"/>
<ellipse cx="1076.2" cy="422.3" rx="28.8" ry="51.2" fill="url(#w140)" fill-opacity="0.279" transform="rotate(-18.4 1076.2 422.3)"/>
<ellipse cx="1082.8" cy="420.0" rx="28.8" ry="51.2" fill="url(#w140)" fill-opacity="0.274" transform="rotate(-19.3 1082.8 420.0)"/>
<ellipse cx="1089.4" cy="417.7" rx="28.8" ry="51.2" fill="url(#w140)" fill-opacity="0.2669" transform="rotate(-19.3 1089.4 417.7)"/>
<ellipse cx="1095.9" cy="415.4" rx="28.8" ry="51.2" fill="url(#w140)" fill-opacity="0.2599" transform="rotate(-19.3 1095.9 415.4)"/>
<ellipse cx="1102.7" cy="414.4" rx="28.8" ry="51.2" fill="url(#w140)" fill-opacity="0.2495" transform="rotate(7.6 1102.7 414.4)"/>
<ellipse cx="1109.6" cy="415.3" rx="28.8" ry="51.2" fill="url(#w140)" fill-opacity="0.2339" transform="rotate(7.6 1109.6 415.3)"/>
<ellipse cx="1116.4" cy="416.4" rx="28.8" ry="51.2" fill="url(#w140)" fill-opacity="0.2182" transform="rotate(17.1 1116.4 416.4)"/>
<ellipse cx="1123.1" cy="418.5" rx="28.8" ry="51.2" fill="url(#w140)" fill-opacity="0.2024" transform="rotate(17.1 1123.1 418.5)"/>
<ellipse cx="1129.7" cy="420.8" rx="28.8" ry="51.2" fill="url(#w140)" fill-opacity="0.1883" transform="rotate(26.6 1129.7 420.8)"/>
<ellipse cx="1135.9" cy="424.0" rx="28.8" ry="51.2" fill="url(#w140)" fill-opacity="0.1787" transform="rotate(26.6 1135.9 424.0)"/>
<ellipse cx="1142.1" cy="427.1" rx="28.8" ry="51.2" fill="url(#w140)" fill-opacity="0.169" transform="rotate(24.8 1142.1 427.1)"/>
<ellipse cx="1148.5" cy="430.0" rx="28.8" ry="51.2" fill="url(#w140)" fill-opacity="0.157" transform="rotate(24.8 1148.5 430.0)"/>
<ellipse cx="1154.8" cy="432.9" rx="28.8" ry="51.2" fill="url(#w140)" fill-opacity="0.145" transform="rotate(24.8 1154.8 432.9)"/>
<ellipse cx="1161.5" cy="434.9" rx="28.8" ry="51.2" fill="url(#w140)" fill-opacity="0.1107" transform="rotate(16.7 1161.5 434.9)"/>
<ellipse cx="1168.3" cy="436.7" rx="28.8" ry="51.2" fill="url(#w140)" fill-opacity="0.0723" transform="rotate(11.3 1168.3 436.7)"/>
<ellipse cx="1175.1" cy="438.0" rx="28.8" ry="51.2" fill="url(#w140)" fill-opacity="0.0304" transform="rotate(8.1 1175.1 438.0)"/>
<ellipse cx="1014" cy="400" rx="73.6" ry="54.4" fill="url(#w130)" fill-opacity="0.4"/>
<ellipse cx="1026.9" cy="497.7" rx="28.8" ry="51.2" fill="url(#w140)" fill-opacity="0.0741" transform="rotate(5.7 1026.9 497.7)"/>
<ellipse cx="1033.8" cy="498.8" rx="28.8" ry="51.2" fill="url(#w140)" fill-opacity="0.1383" transform="rotate(11.3 1033.8 498.8)"/>
<ellipse cx="1040.6" cy="500.0" rx="28.8" ry="51.2" fill="url(#w140)" fill-opacity="0.1933" transform="rotate(4.8 1040.6 500.0)"/>
<ellipse cx="1047.5" cy="500.6" rx="28.8" ry="51.2" fill="url(#w140)" fill-opacity="0.2339" transform="rotate(4.8 1047.5 500.6)"/>
<ellipse cx="1054.4" cy="501.3" rx="28.8" ry="51.2" fill="url(#w140)" fill-opacity="0.2632" transform="rotate(8.1 1054.4 501.3)"/>
<ellipse cx="1061.3" cy="502.3" rx="28.8" ry="51.2" fill="url(#w140)" fill-opacity="0.2712" transform="rotate(8.1 1061.3 502.3)"/>
<ellipse cx="1068.2" cy="503.3" rx="28.8" ry="51.2" fill="url(#w140)" fill-opacity="0.2792" transform="rotate(8.1 1068.2 503.3)"/>
<ellipse cx="1074.9" cy="504.7" rx="28.8" ry="51.2" fill="url(#w140)" fill-opacity="0.2842" transform="rotate(19.4 1074.9 504.7)"/>
<ellipse cx="1081.5" cy="507.0" rx="28.8" ry="51.2" fill="url(#w140)" fill-opacity="0.2818" transform="rotate(19.4 1081.5 507.0)"/>
<ellipse cx="1088.0" cy="509.3" rx="28.8" ry="51.2" fill="url(#w140)" fill-opacity="0.2795" transform="rotate(19.4 1088.0 509.3)"/>
<ellipse cx="1094.5" cy="511.7" rx="28.8" ry="51.2" fill="url(#w140)" fill-opacity="0.2761" transform="rotate(20.6 1094.5 511.7)"/>
<ellipse cx="1101.0" cy="514.1" rx="28.8" ry="51.2" fill="url(#w140)" fill-opacity="0.2724" transform="rotate(20.6 1101.0 514.1)"/>
<ellipse cx="1107.6" cy="515.8" rx="28.8" ry="51.2" fill="url(#w140)" fill-opacity="0.266" transform="rotate(-8.1 1107.6 515.8)"/>
<ellipse cx="1114.5" cy="514.8" rx="28.8" ry="51.2" fill="url(#w140)" fill-opacity="0.251" transform="rotate(-8.1 1114.5 514.8)"/>
<ellipse cx="1121.2" cy="513.3" rx="28.8" ry="51.2" fill="url(#w140)" fill-opacity="0.2355" transform="rotate(-28.3 1121.2 513.3)"/>
<ellipse cx="1127.3" cy="510.0" rx="28.8" ry="51.2" fill="url(#w140)" fill-opacity="0.2182" transform="rotate(-28.3 1127.3 510.0)"/>
<ellipse cx="1133.4" cy="506.7" rx="28.8" ry="51.2" fill="url(#w140)" fill-opacity="0.2016" transform="rotate(-34.7 1133.4 506.7)"/>
<ellipse cx="1139.1" cy="502.8" rx="28.8" ry="51.2" fill="url(#w140)" fill-opacity="0.1935" transform="rotate(-34.7 1139.1 502.8)"/>
<ellipse cx="1144.8" cy="498.8" rx="28.8" ry="51.2" fill="url(#w140)" fill-opacity="0.1854" transform="rotate(-34.7 1144.8 498.8)"/>
<ellipse cx="1151.1" cy="495.9" rx="28.8" ry="51.2" fill="url(#w140)" fill-opacity="0.1682" transform="rotate(-22.6 1151.1 495.9)"/>
<ellipse cx="1157.5" cy="493.2" rx="28.8" ry="51.2" fill="url(#w140)" fill-opacity="0.1485" transform="rotate(-22.6 1157.5 493.2)"/>
<ellipse cx="1164.3" cy="491.7" rx="28.8" ry="51.2" fill="url(#w140)" fill-opacity="0.1123" transform="rotate(-11.3 1164.3 491.7)"/>
<ellipse cx="1171.1" cy="490.7" rx="28.8" ry="51.2" fill="url(#w140)" fill-opacity="0.0726" transform="rotate(-5.7 1171.1 490.7)"/>
<ellipse cx="1178.1" cy="490.0" rx="28.8" ry="51.2" fill="url(#w140)" fill-opacity="0.0304"/>
<ellipse cx="1018" cy="527" rx="76.8" ry="54.4" fill="url(#w130)" fill-opacity="0.4"/>
<ellipse cx="1162" cy="373" rx="103.7" ry="54.7" fill="url(#w100)" fill-opacity="0.24" transform="rotate(35 1162 373)"/>
<ellipse cx="1218" cy="345" rx="93.3" ry="50.8" fill="url(#w110)" fill-opacity="0.31"/>
<ellipse cx="1273" cy="380" rx="69.1" ry="54.7" fill="url(#w100)" fill-opacity="0.18" transform="rotate(45 1273 380)"/>
<ellipse cx="1310" cy="432" rx="82.9" ry="42.9" fill="url(#w110)" fill-opacity="0.34"/>
<ellipse cx="1327.5" cy="423.8" rx="28.8" ry="41.6" fill="url(#w100)" fill-opacity="0.0258" transform="rotate(-37.6 1327.5 423.8)"/>
<ellipse cx="1332.9" cy="419.6" rx="28.8" ry="41.6" fill="url(#w100)" fill-opacity="0.0515" transform="rotate(-37.6 1332.9 419.6)"/>
<ellipse cx="1338.3" cy="415.2" rx="28.8" ry="41.6" fill="url(#w100)" fill-opacity="0.0612" transform="rotate(-40.9 1338.3 415.2)"/>
<ellipse cx="1343.5" cy="410.7" rx="28.8" ry="41.6" fill="url(#w100)" fill-opacity="0.0612" transform="rotate(-40.9 1343.5 410.7)"/>
<ellipse cx="1348.7" cy="406.1" rx="28.8" ry="41.6" fill="url(#w100)" fill-opacity="0.0612" transform="rotate(-40.9 1348.7 406.1)"/>
<ellipse cx="1354.3" cy="402.1" rx="28.8" ry="41.6" fill="url(#w100)" fill-opacity="0.0595" transform="rotate(-33.7 1354.3 402.1)"/>
<ellipse cx="1360.1" cy="398.3" rx="28.8" ry="41.6" fill="url(#w100)" fill-opacity="0.0571" transform="rotate(-33.7 1360.1 398.3)"/>
<ellipse cx="1365.8" cy="394.5" rx="28.8" ry="41.6" fill="url(#w100)" fill-opacity="0.0515" transform="rotate(-28.3 1365.8 394.5)"/>
<ellipse cx="1371.9" cy="391.3" rx="28.8" ry="41.6" fill="url(#w100)" fill-opacity="0.0258" transform="rotate(-28.3 1371.9 391.3)"/>
<ellipse cx="1316" cy="497" rx="76.8" ry="38.4" fill="url(#w120)" fill-opacity="0.36"/>
<ellipse cx="1330.4" cy="509.1" rx="28.8" ry="41.6" fill="url(#w100)" fill-opacity="0.0247" transform="rotate(37.6 1330.4 509.1)"/>
<ellipse cx="1335.7" cy="513.2" rx="28.8" ry="41.6" fill="url(#w100)" fill-opacity="0.0495" transform="rotate(37.6 1335.7 513.2)"/>
<ellipse cx="1341.0" cy="517.5" rx="28.8" ry="41.6" fill="url(#w100)" fill-opacity="0.06" transform="rotate(40.6 1341.0 517.5)"/>
<ellipse cx="1346.1" cy="521.9" rx="28.8" ry="41.6" fill="url(#w100)" fill-opacity="0.06" transform="rotate(40.6 1346.1 521.9)"/>
<ellipse cx="1351.2" cy="526.3" rx="28.8" ry="41.6" fill="url(#w100)" fill-opacity="0.06" transform="rotate(40.6 1351.2 526.3)"/>
<ellipse cx="1356.8" cy="530.2" rx="28.8" ry="41.6" fill="url(#w100)" fill-opacity="0.0581" transform="rotate(33.7 1356.8 530.2)"/>
<ellipse cx="1362.4" cy="533.9" rx="28.8" ry="41.6" fill="url(#w100)" fill-opacity="0.0558" transform="rotate(33.7 1362.4 533.9)"/>
<ellipse cx="1368.1" cy="537.6" rx="28.8" ry="41.6" fill="url(#w100)" fill-opacity="0.0494" transform="rotate(28.3 1368.1 537.6)"/>
<ellipse cx="1374.0" cy="540.8" rx="28.8" ry="41.6" fill="url(#w100)" fill-opacity="0.0247" transform="rotate(28.3 1374.0 540.8)"/>
<ellipse cx="1172" cy="548" rx="93.3" ry="58.6" fill="url(#w110)" fill-opacity="0.28" transform="rotate(-20 1172 548)"/>
<ellipse cx="1221" cy="584" rx="89.9" ry="50.8" fill="url(#w110)" fill-opacity="0.34"/>
<ellipse cx="1275" cy="543" rx="62.2" ry="54.7" fill="url(#w100)" fill-opacity="0.18" transform="rotate(-45 1275 543)"/>
<ellipse cx="1145" cy="567" rx="62.2" ry="46.8" fill="url(#w100)" fill-opacity="0.15"/>
<ellipse cx="1251" cy="279" rx="69.1" ry="46.8" fill="url(#w100)" fill-opacity="0.06"/>
<ellipse cx="1255" cy="635" rx="69.1" ry="46.8" fill="url(#w100)" fill-opacity="0.08"/>
<ellipse cx="1462.0" cy="433.0" rx="28.8" ry="44.8" fill="url(#w140)" fill-opacity="0.0257"/>
<ellipse cx="1468.9" cy="433.0" rx="28.8" ry="44.8" fill="url(#w140)" fill-opacity="0.065"/>
<ellipse cx="1475.9" cy="433.0" rx="28.8" ry="44.8" fill="url(#w140)" fill-opacity="0.1147"/>
<ellipse cx="1482.9" cy="433.0" rx="28.8" ry="44.8" fill="url(#w140)" fill-opacity="0.1365"/>
<ellipse cx="1489.8" cy="433.0" rx="28.8" ry="44.8" fill="url(#w140)" fill-opacity="0.1579"/>
<ellipse cx="1496.8" cy="433.0" rx="28.8" ry="44.8" fill="url(#w140)" fill-opacity="0.1793"/>
<ellipse cx="1503.8" cy="433.0" rx="28.8" ry="44.8" fill="url(#w140)" fill-opacity="0.2136"/>
<ellipse cx="1510.8" cy="433.0" rx="28.8" ry="44.8" fill="url(#w140)" fill-opacity="0.2672"/>
<ellipse cx="1517.7" cy="433.0" rx="28.8" ry="44.8" fill="url(#w140)" fill-opacity="0.2763"/>
<ellipse cx="1524.7" cy="433.0" rx="28.8" ry="44.8" fill="url(#w140)" fill-opacity="0.2838"/>
<ellipse cx="1531.7" cy="433.0" rx="28.8" ry="44.8" fill="url(#w140)" fill-opacity="0.2913"/>
<ellipse cx="1538.6" cy="433.0" rx="28.8" ry="44.8" fill="url(#w140)" fill-opacity="0.2988"/>
<ellipse cx="1545.6" cy="433.0" rx="28.8" ry="44.8" fill="url(#w140)" fill-opacity="0.2984"/>
<ellipse cx="1552.6" cy="433.0" rx="28.8" ry="44.8" fill="url(#w140)" fill-opacity="0.2939"/>
<ellipse cx="1559.5" cy="433.0" rx="28.8" ry="44.8" fill="url(#w140)" fill-opacity="0.2895"/>
<ellipse cx="1566.5" cy="433.0" rx="28.8" ry="44.8" fill="url(#w140)" fill-opacity="0.2836"/>
<ellipse cx="1573.5" cy="433.0" rx="28.8" ry="44.8" fill="url(#w140)" fill-opacity="0.2729"/>
<ellipse cx="1580.5" cy="433.0" rx="28.8" ry="44.8" fill="url(#w140)" fill-opacity="0.2622"/>
<ellipse cx="1587.4" cy="433.0" rx="28.8" ry="44.8" fill="url(#w140)" fill-opacity="0.2478"/>
<ellipse cx="1594.4" cy="433.0" rx="28.8" ry="44.8" fill="url(#w140)" fill-opacity="0.2332"/>
<ellipse cx="1601.4" cy="433.0" rx="28.8" ry="44.8" fill="url(#w140)" fill-opacity="0.2187"/>
<ellipse cx="1608.3" cy="433.0" rx="28.8" ry="44.8" fill="url(#w140)" fill-opacity="0.2052"/>
<ellipse cx="1615.3" cy="433.0" rx="28.8" ry="44.8" fill="url(#w140)" fill-opacity="0.1916"/>
<ellipse cx="1622.3" cy="433.0" rx="28.8" ry="44.8" fill="url(#w140)" fill-opacity="0.1782"/>
<ellipse cx="1629.2" cy="433.0" rx="28.8" ry="44.8" fill="url(#w140)" fill-opacity="0.1648"/>
<ellipse cx="1636.2" cy="433.0" rx="28.8" ry="44.8" fill="url(#w140)" fill-opacity="0.1514"/>
<ellipse cx="1643.2" cy="433.0" rx="28.8" ry="44.8" fill="url(#w140)" fill-opacity="0.138"/>
<ellipse cx="1650.2" cy="433.0" rx="28.8" ry="44.8" fill="url(#w140)" fill-opacity="0.1246"/>
<ellipse cx="1657.1" cy="433.0" rx="28.8" ry="44.8" fill="url(#w140)" fill-opacity="0.1067"/>
<ellipse cx="1664.1" cy="433.0" rx="28.8" ry="44.8" fill="url(#w140)" fill-opacity="0.0783"/>
<ellipse cx="1671.1" cy="433.0" rx="28.8" ry="44.8" fill="url(#w140)" fill-opacity="0.0499"/>
<ellipse cx="1678.0" cy="433.0" rx="28.8" ry="44.8" fill="url(#w140)" fill-opacity="0.0247"/>
<ellipse cx="1455.0" cy="496.0" rx="28.8" ry="43.2" fill="url(#w140)" fill-opacity="0.0262"/>
<ellipse cx="1462.1" cy="496.0" rx="28.8" ry="43.2" fill="url(#w140)" fill-opacity="0.0541"/>
<ellipse cx="1469.1" cy="496.0" rx="28.8" ry="43.2" fill="url(#w140)" fill-opacity="0.0834"/>
<ellipse cx="1476.1" cy="496.0" rx="28.8" ry="43.2" fill="url(#w140)" fill-opacity="0.1126"/>
<ellipse cx="1483.2" cy="496.0" rx="28.8" ry="43.2" fill="url(#w140)" fill-opacity="0.134"/>
<ellipse cx="1490.2" cy="496.0" rx="28.8" ry="43.2" fill="url(#w140)" fill-opacity="0.1542"/>
<ellipse cx="1497.2" cy="496.0" rx="28.8" ry="43.2" fill="url(#w140)" fill-opacity="0.1744"/>
<ellipse cx="1504.2" cy="496.0" rx="28.8" ry="43.2" fill="url(#w140)" fill-opacity="0.1957"/>
<ellipse cx="1511.3" cy="496.0" rx="28.8" ry="43.2" fill="url(#w140)" fill-opacity="0.2502"/>
<ellipse cx="1518.3" cy="496.0" rx="28.8" ry="43.2" fill="url(#w140)" fill-opacity="0.2762"/>
<ellipse cx="1525.3" cy="496.0" rx="28.8" ry="43.2" fill="url(#w140)" fill-opacity="0.2839"/>
<ellipse cx="1532.4" cy="496.0" rx="28.8" ry="43.2" fill="url(#w140)" fill-opacity="0.2917"/>
<ellipse cx="1539.4" cy="496.0" rx="28.8" ry="43.2" fill="url(#w140)" fill-opacity="0.2964"/>
<ellipse cx="1546.4" cy="496.0" rx="28.8" ry="43.2" fill="url(#w140)" fill-opacity="0.2993"/>
<ellipse cx="1553.5" cy="496.0" rx="28.8" ry="43.2" fill="url(#w140)" fill-opacity="0.3021"/>
<ellipse cx="1560.5" cy="496.0" rx="28.8" ry="43.2" fill="url(#w140)" fill-opacity="0.3029"/>
<ellipse cx="1567.5" cy="496.0" rx="28.8" ry="43.2" fill="url(#w140)" fill-opacity="0.2999"/>
<ellipse cx="1574.5" cy="496.0" rx="28.8" ry="43.2" fill="url(#w140)" fill-opacity="0.297"/>
<ellipse cx="1581.6" cy="496.0" rx="28.8" ry="43.2" fill="url(#w140)" fill-opacity="0.2931"/>
<ellipse cx="1588.6" cy="496.0" rx="28.8" ry="43.2" fill="url(#w140)" fill-opacity="0.2863"/>
<ellipse cx="1595.6" cy="496.0" rx="28.8" ry="43.2" fill="url(#w140)" fill-opacity="0.2795"/>
<ellipse cx="1602.7" cy="496.0" rx="28.8" ry="43.2" fill="url(#w140)" fill-opacity="0.2727"/>
<ellipse cx="1609.7" cy="496.0" rx="28.8" ry="43.2" fill="url(#w140)" fill-opacity="0.2398"/>
<ellipse cx="1616.7" cy="496.0" rx="28.8" ry="43.2" fill="url(#w140)" fill-opacity="0.2009"/>
<ellipse cx="1623.8" cy="496.0" rx="28.8" ry="43.2" fill="url(#w140)" fill-opacity="0.179"/>
<ellipse cx="1630.8" cy="496.0" rx="28.8" ry="43.2" fill="url(#w140)" fill-opacity="0.1608"/>
<ellipse cx="1637.8" cy="496.0" rx="28.8" ry="43.2" fill="url(#w140)" fill-opacity="0.1426"/>
<ellipse cx="1644.8" cy="496.0" rx="28.8" ry="43.2" fill="url(#w140)" fill-opacity="0.1245"/>
<ellipse cx="1651.9" cy="496.0" rx="28.8" ry="43.2" fill="url(#w140)" fill-opacity="0.101"/>
<ellipse cx="1658.9" cy="496.0" rx="28.8" ry="43.2" fill="url(#w140)" fill-opacity="0.0732"/>
<ellipse cx="1665.9" cy="496.0" rx="28.8" ry="43.2" fill="url(#w140)" fill-opacity="0.0454"/>
<ellipse cx="1673.0" cy="496.0" rx="28.8" ry="43.2" fill="url(#w140)" fill-opacity="0.0218"/>
<ellipse cx="1578" cy="371" rx="121.0" ry="42.9" fill="url(#w110)" fill-opacity="0.3"/>
<ellipse cx="1391.5" cy="352.5" rx="28.8" ry="38.4" fill="url(#w100)" fill-opacity="0.0186" transform="rotate(21.0 1391.5 352.5)"/>
<ellipse cx="1398.0" cy="355.0" rx="28.8" ry="38.4" fill="url(#w100)" fill-opacity="0.0371" transform="rotate(20.3 1398.0 355.0)"/>
<ellipse cx="1404.6" cy="357.4" rx="28.8" ry="38.4" fill="url(#w100)" fill-opacity="0.0401" transform="rotate(20.3 1404.6 357.4)"/>
<ellipse cx="1411.1" cy="359.9" rx="28.8" ry="38.4" fill="url(#w100)" fill-opacity="0.0431" transform="rotate(20.3 1411.1 359.9)"/>
<ellipse cx="1417.6" cy="362.3" rx="28.8" ry="38.4" fill="url(#w100)" fill-opacity="0.0461" transform="rotate(20.3 1417.6 362.3)"/>
<ellipse cx="1424.2" cy="364.7" rx="28.8" ry="38.4" fill="url(#w100)" fill-opacity="0.0491" transform="rotate(20.3 1424.2 364.7)"/>
<ellipse cx="1430.5" cy="367.6" rx="28.8" ry="38.4" fill="url(#w100)" fill-opacity="0.0522" transform="rotate(25.6 1430.5 367.6)"/>
<ellipse cx="1436.8" cy="370.7" rx="28.8" ry="38.4" fill="url(#w100)" fill-opacity="0.0553" transform="rotate(25.6 1436.8 370.7)"/>
<ellipse cx="1443.1" cy="373.7" rx="28.8" ry="38.4" fill="url(#w100)" fill-opacity="0.0584" transform="rotate(25.6 1443.1 373.7)"/>
<ellipse cx="1449.4" cy="376.7" rx="28.8" ry="38.4" fill="url(#w100)" fill-opacity="0.0615" transform="rotate(25.6 1449.4 376.7)"/>
<ellipse cx="1455.8" cy="379.4" rx="28.8" ry="38.4" fill="url(#w100)" fill-opacity="0.0618" transform="rotate(22.2 1455.8 379.4)"/>
<ellipse cx="1462.3" cy="382.0" rx="28.8" ry="38.4" fill="url(#w100)" fill-opacity="0.0618" transform="rotate(22.2 1462.3 382.0)"/>
<ellipse cx="1468.7" cy="384.7" rx="28.8" ry="38.4" fill="url(#w100)" fill-opacity="0.0618" transform="rotate(22.2 1468.7 384.7)"/>
<ellipse cx="1475.3" cy="387.0" rx="28.8" ry="38.4" fill="url(#w100)" fill-opacity="0.0578" transform="rotate(16.7 1475.3 387.0)"/>
<ellipse cx="1482.0" cy="389.0" rx="28.8" ry="38.4" fill="url(#w100)" fill-opacity="0.0495" transform="rotate(16.7 1482.0 389.0)"/>
<ellipse cx="1488.6" cy="391.0" rx="28.8" ry="38.4" fill="url(#w100)" fill-opacity="0.0413" transform="rotate(16.7 1488.6 391.0)"/>
<ellipse cx="1495.3" cy="393.0" rx="28.8" ry="38.4" fill="url(#w100)" fill-opacity="0.0248" transform="rotate(16.7 1495.3 393.0)"/>
<ellipse cx="1416.6" cy="294.2" rx="28.8" ry="32.0" fill="url(#w110)" fill-opacity="0.0206" transform="rotate(18.4 1416.6 294.2)"/>
<ellipse cx="1423.3" cy="296.4" rx="28.8" ry="32.0" fill="url(#w110)" fill-opacity="0.0376" transform="rotate(19.3 1423.3 296.4)"/>
<ellipse cx="1429.9" cy="298.8" rx="28.8" ry="32.0" fill="url(#w110)" fill-opacity="0.0397" transform="rotate(19.3 1429.9 298.8)"/>
<ellipse cx="1436.5" cy="301.1" rx="28.8" ry="32.0" fill="url(#w110)" fill-opacity="0.0417" transform="rotate(19.3 1436.5 301.1)"/>
<ellipse cx="1443.1" cy="303.4" rx="28.8" ry="32.0" fill="url(#w110)" fill-opacity="0.0436" transform="rotate(19.7 1443.1 303.4)"/>
<ellipse cx="1449.7" cy="305.7" rx="28.8" ry="32.0" fill="url(#w110)" fill-opacity="0.0443" transform="rotate(19.7 1449.7 305.7)"/>
<ellipse cx="1456.2" cy="308.1" rx="28.8" ry="32.0" fill="url(#w110)" fill-opacity="0.045" transform="rotate(19.7 1456.2 308.1)"/>
<ellipse cx="1462.8" cy="310.4" rx="28.8" ry="32.0" fill="url(#w110)" fill-opacity="0.0457" transform="rotate(19.7 1462.8 310.4)"/>
<ellipse cx="1469.4" cy="312.8" rx="28.8" ry="32.0" fill="url(#w110)" fill-opacity="0.0465" transform="rotate(19.7 1469.4 312.8)"/>
<ellipse cx="1475.9" cy="315.4" rx="28.8" ry="32.0" fill="url(#w110)" fill-opacity="0.0471" transform="rotate(21.8 1475.9 315.4)"/>
<ellipse cx="1482.4" cy="318.0" rx="28.8" ry="32.0" fill="url(#w110)" fill-opacity="0.0478" transform="rotate(21.8 1482.4 318.0)"/>
<ellipse cx="1488.9" cy="320.6" rx="28.8" ry="32.0" fill="url(#w110)" fill-opacity="0.0485" transform="rotate(21.8 1488.9 320.6)"/>
<ellipse cx="1495.4" cy="323.2" rx="28.8" ry="32.0" fill="url(#w110)" fill-opacity="0.0492" transform="rotate(21.8 1495.4 323.2)"/>
<ellipse cx="1501.9" cy="325.7" rx="28.8" ry="32.0" fill="url(#w110)" fill-opacity="0.0491" transform="rotate(20.0 1501.9 325.7)"/>
<ellipse cx="1508.5" cy="328.1" rx="28.8" ry="32.0" fill="url(#w110)" fill-opacity="0.0472" transform="rotate(20.0 1508.5 328.1)"/>
<ellipse cx="1515.1" cy="330.5" rx="28.8" ry="32.0" fill="url(#w110)" fill-opacity="0.0454" transform="rotate(20.0 1515.1 330.5)"/>
<ellipse cx="1521.6" cy="332.9" rx="28.8" ry="32.0" fill="url(#w110)" fill-opacity="0.0435" transform="rotate(20.0 1521.6 332.9)"/>
<ellipse cx="1528.3" cy="334.9" rx="28.8" ry="32.0" fill="url(#w110)" fill-opacity="0.0223" transform="rotate(17.1 1528.3 334.9)"/>
<ellipse cx="1573" cy="558" rx="131.3" ry="42.9" fill="url(#w110)" fill-opacity="0.25"/>
<ellipse cx="1381.4" cy="577.7" rx="28.8" ry="38.4" fill="url(#w100)" fill-opacity="0.0232" transform="rotate(-20.0 1381.4 577.7)"/>
<ellipse cx="1387.9" cy="575.2" rx="28.8" ry="38.4" fill="url(#w100)" fill-opacity="0.04" transform="rotate(-22.6 1387.9 575.2)"/>
<ellipse cx="1394.2" cy="572.6" rx="28.8" ry="38.4" fill="url(#w100)" fill-opacity="0.0416" transform="rotate(-22.6 1394.2 572.6)"/>
<ellipse cx="1400.5" cy="569.9" rx="28.8" ry="38.4" fill="url(#w100)" fill-opacity="0.0432" transform="rotate(-22.6 1400.5 569.9)"/>
<ellipse cx="1406.9" cy="567.3" rx="28.8" ry="38.4" fill="url(#w100)" fill-opacity="0.0448" transform="rotate(-22.6 1406.9 567.3)"/>
<ellipse cx="1413.1" cy="564.5" rx="28.8" ry="38.4" fill="url(#w100)" fill-opacity="0.0469" transform="rotate(-25.0 1413.1 564.5)"/>
<ellipse cx="1419.3" cy="561.6" rx="28.8" ry="38.4" fill="url(#w100)" fill-opacity="0.0494" transform="rotate(-25.0 1419.3 561.6)"/>
<ellipse cx="1425.6" cy="558.7" rx="28.8" ry="38.4" fill="url(#w100)" fill-opacity="0.0519" transform="rotate(-25.0 1425.6 558.7)"/>
<ellipse cx="1431.8" cy="555.8" rx="28.8" ry="38.4" fill="url(#w100)" fill-opacity="0.0544" transform="rotate(-25.0 1431.8 555.8)"/>
<ellipse cx="1438.0" cy="552.9" rx="28.8" ry="38.4" fill="url(#w100)" fill-opacity="0.057" transform="rotate(-25.0 1438.0 552.9)"/>
<ellipse cx="1444.3" cy="550.3" rx="28.8" ry="38.4" fill="url(#w100)" fill-opacity="0.0583" transform="rotate(-21.8 1444.3 550.3)"/>
<ellipse cx="1450.7" cy="547.7" rx="28.8" ry="38.4" fill="url(#w100)" fill-opacity="0.0591" transform="rotate(-21.8 1450.7 547.7)"/>
<ellipse cx="1457.0" cy="545.2" rx="28.8" ry="38.4" fill="url(#w100)" fill-opacity="0.0598" transform="rotate(-21.8 1457.0 545.2)"/>
<ellipse cx="1463.4" cy="542.6" rx="28.8" ry="38.4" fill="url(#w100)" fill-opacity="0.0606" transform="rotate(-21.8 1463.4 542.6)"/>
<ellipse cx="1469.9" cy="540.3" rx="28.8" ry="38.4" fill="url(#w100)" fill-opacity="0.0571" transform="rotate(-19.3 1469.9 540.3)"/>
<ellipse cx="1476.3" cy="538.0" rx="28.8" ry="38.4" fill="url(#w100)" fill-opacity="0.0522" transform="rotate(-19.3 1476.3 538.0)"/>
<ellipse cx="1482.8" cy="535.8" rx="28.8" ry="38.4" fill="url(#w100)" fill-opacity="0.0473" transform="rotate(-19.3 1482.8 535.8)"/>
<ellipse cx="1489.4" cy="533.8" rx="28.8" ry="38.4" fill="url(#w100)" fill-opacity="0.0274" transform="rotate(-15.3 1489.4 533.8)"/>
<ellipse cx="1484" cy="605" rx="76.0" ry="39.0" fill="url(#w100)" fill-opacity="0.18" transform="rotate(-25 1484 605)"/>
<ellipse cx="1436" cy="628" rx="69.1" ry="39.0" fill="url(#w100)" fill-opacity="0.17" transform="rotate(-25 1436 628)"/>
<ellipse cx="1715" cy="392" rx="76.0" ry="46.8" fill="url(#w100)" fill-opacity="0.08"/>
<ellipse cx="1691" cy="593" rx="76.0" ry="46.8" fill="url(#w100)" fill-opacity="0.07"/>
<ellipse cx="1650" cy="330" rx="69.1" ry="39.0" fill="url(#w100)" fill-opacity="0.06"/>
<ellipse cx="1650" cy="275" rx="69.1" ry="39.0" fill="url(#w100)" fill-opacity="0.06"/>
<ellipse cx="1761.9" cy="431.0" rx="28.8" ry="48.0" fill="url(#w140)" fill-opacity="0.0139"/>
<ellipse cx="1768.9" cy="431.0" rx="28.8" ry="48.0" fill="url(#w140)" fill-opacity="0.0279"/>
<ellipse cx="1775.8" cy="431.0" rx="28.8" ry="48.0" fill="url(#w140)" fill-opacity="0.0409"/>
<ellipse cx="1782.7" cy="431.0" rx="28.8" ry="48.0" fill="url(#w140)" fill-opacity="0.0511"/>
<ellipse cx="1789.7" cy="431.0" rx="28.8" ry="48.0" fill="url(#w140)" fill-opacity="0.0612"/>
<ellipse cx="1796.6" cy="431.0" rx="28.8" ry="48.0" fill="url(#w140)" fill-opacity="0.0714"/>
<ellipse cx="1803.5" cy="431.0" rx="28.8" ry="48.0" fill="url(#w140)" fill-opacity="0.0829"/>
<ellipse cx="1810.5" cy="431.0" rx="28.8" ry="48.0" fill="url(#w140)" fill-opacity="0.0955"/>
<ellipse cx="1817.4" cy="431.0" rx="28.8" ry="48.0" fill="url(#w140)" fill-opacity="0.1081"/>
<ellipse cx="1824.3" cy="431.0" rx="28.8" ry="48.0" fill="url(#w140)" fill-opacity="0.1212"/>
<ellipse cx="1831.2" cy="431.0" rx="28.8" ry="48.0" fill="url(#w140)" fill-opacity="0.1348"/>
<ellipse cx="1838.2" cy="431.0" rx="28.8" ry="48.0" fill="url(#w140)" fill-opacity="0.1484"/>
<ellipse cx="1845.1" cy="431.0" rx="28.8" ry="48.0" fill="url(#w140)" fill-opacity="0.1619"/>
<ellipse cx="1852.0" cy="431.0" rx="28.8" ry="48.0" fill="url(#w140)" fill-opacity="0.1755"/>
<ellipse cx="1859.0" cy="431.0" rx="28.8" ry="48.0" fill="url(#w140)" fill-opacity="0.1891"/>
<ellipse cx="1865.9" cy="431.0" rx="28.8" ry="48.0" fill="url(#w140)" fill-opacity="0.2038"/>
<ellipse cx="1872.8" cy="431.0" rx="28.8" ry="48.0" fill="url(#w140)" fill-opacity="0.2186"/>
<ellipse cx="1879.8" cy="431.0" rx="28.8" ry="48.0" fill="url(#w140)" fill-opacity="0.2335"/>
<ellipse cx="1886.7" cy="431.0" rx="28.8" ry="48.0" fill="url(#w140)" fill-opacity="0.2477"/>
<ellipse cx="1893.6" cy="431.0" rx="28.8" ry="48.0" fill="url(#w140)" fill-opacity="0.2602"/>
<ellipse cx="1900.6" cy="431.0" rx="28.8" ry="48.0" fill="url(#w140)" fill-opacity="0.2727"/>
<ellipse cx="1907.5" cy="431.0" rx="28.8" ry="48.0" fill="url(#w140)" fill-opacity="0.2789"/>
<ellipse cx="1914.4" cy="431.0" rx="28.8" ry="48.0" fill="url(#w140)" fill-opacity="0.2835"/>
<ellipse cx="1921.4" cy="431.0" rx="28.8" ry="48.0" fill="url(#w140)" fill-opacity="0.2881"/>
<ellipse cx="1928.3" cy="431.0" rx="28.8" ry="48.0" fill="url(#w140)" fill-opacity="0.2885"/>
<ellipse cx="1935.2" cy="431.0" rx="28.8" ry="48.0" fill="url(#w140)" fill-opacity="0.2843"/>
<ellipse cx="1942.2" cy="431.0" rx="28.8" ry="48.0" fill="url(#w140)" fill-opacity="0.28"/>
<ellipse cx="1949.1" cy="431.0" rx="28.8" ry="48.0" fill="url(#w140)" fill-opacity="0.2758"/>
<ellipse cx="1956.0" cy="431.0" rx="28.8" ry="48.0" fill="url(#w140)" fill-opacity="0.266"/>
<ellipse cx="1963.0" cy="431.0" rx="28.8" ry="48.0" fill="url(#w140)" fill-opacity="0.2554"/>
<ellipse cx="1969.9" cy="431.0" rx="28.8" ry="48.0" fill="url(#w140)" fill-opacity="0.2448"/>
<ellipse cx="1976.8" cy="431.0" rx="28.8" ry="48.0" fill="url(#w140)" fill-opacity="0.2244"/>
<ellipse cx="1983.8" cy="431.0" rx="28.8" ry="48.0" fill="url(#w140)" fill-opacity="0.2038"/>
<ellipse cx="1990.7" cy="431.0" rx="28.8" ry="48.0" fill="url(#w140)" fill-opacity="0.1865"/>
<ellipse cx="1997.6" cy="431.0" rx="28.8" ry="48.0" fill="url(#w140)" fill-opacity="0.1744"/>
<ellipse cx="2004.5" cy="431.0" rx="28.8" ry="48.0" fill="url(#w140)" fill-opacity="0.1624"/>
<ellipse cx="2011.5" cy="431.0" rx="28.8" ry="48.0" fill="url(#w140)" fill-opacity="0.1502"/>
<ellipse cx="2018.4" cy="431.0" rx="28.8" ry="48.0" fill="url(#w140)" fill-opacity="0.1376"/>
<ellipse cx="2025.3" cy="431.0" rx="28.8" ry="48.0" fill="url(#w140)" fill-opacity="0.125"/>
<ellipse cx="2032.3" cy="431.0" rx="28.8" ry="48.0" fill="url(#w140)" fill-opacity="0.1077"/>
<ellipse cx="2039.2" cy="431.0" rx="28.8" ry="48.0" fill="url(#w140)" fill-opacity="0.0699"/>
<ellipse cx="2046.1" cy="431.0" rx="28.8" ry="48.0" fill="url(#w140)" fill-opacity="0.0353"/>
<ellipse cx="2053.1" cy="431.0" rx="28.8" ry="48.0" fill="url(#w140)" fill-opacity="0.0177"/>
<ellipse cx="1756.9" cy="500.0" rx="28.8" ry="48.0" fill="url(#w140)" fill-opacity="0.0139"/>
<ellipse cx="1763.9" cy="500.0" rx="28.8" ry="48.0" fill="url(#w140)" fill-opacity="0.0279"/>
<ellipse cx="1770.8" cy="500.0" rx="28.8" ry="48.0" fill="url(#w140)" fill-opacity="0.0433"/>
<ellipse cx="1777.7" cy="500.0" rx="28.8" ry="48.0" fill="url(#w140)" fill-opacity="0.0629"/>
<ellipse cx="1784.7" cy="500.0" rx="28.8" ry="48.0" fill="url(#w140)" fill-opacity="0.0826"/>
<ellipse cx="1791.6" cy="500.0" rx="28.8" ry="48.0" fill="url(#w140)" fill-opacity="0.1022"/>
<ellipse cx="1798.5" cy="500.0" rx="28.8" ry="48.0" fill="url(#w140)" fill-opacity="0.1174"/>
<ellipse cx="1805.5" cy="500.0" rx="28.8" ry="48.0" fill="url(#w140)" fill-opacity="0.125"/>
<ellipse cx="1812.4" cy="500.0" rx="28.8" ry="48.0" fill="url(#w140)" fill-opacity="0.1326"/>
<ellipse cx="1819.3" cy="500.0" rx="28.8" ry="48.0" fill="url(#w140)" fill-opacity="0.138"/>
<ellipse cx="1826.2" cy="500.0" rx="28.8" ry="48.0" fill="url(#w140)" fill-opacity="0.1393"/>
<ellipse cx="1833.2" cy="500.0" rx="28.8" ry="48.0" fill="url(#w140)" fill-opacity="0.1406"/>
<ellipse cx="1840.1" cy="500.0" rx="28.8" ry="48.0" fill="url(#w140)" fill-opacity="0.1419"/>
<ellipse cx="1847.0" cy="500.0" rx="28.8" ry="48.0" fill="url(#w140)" fill-opacity="0.1432"/>
<ellipse cx="1854.0" cy="500.0" rx="28.8" ry="48.0" fill="url(#w140)" fill-opacity="0.1453"/>
<ellipse cx="1860.9" cy="500.0" rx="28.8" ry="48.0" fill="url(#w140)" fill-opacity="0.1479"/>
<ellipse cx="1867.8" cy="500.0" rx="28.8" ry="48.0" fill="url(#w140)" fill-opacity="0.1505"/>
<ellipse cx="1874.8" cy="500.0" rx="28.8" ry="48.0" fill="url(#w140)" fill-opacity="0.155"/>
<ellipse cx="1881.7" cy="500.0" rx="28.8" ry="48.0" fill="url(#w140)" fill-opacity="0.1739"/>
<ellipse cx="1888.6" cy="500.0" rx="28.8" ry="48.0" fill="url(#w140)" fill-opacity="0.1944"/>
<ellipse cx="1895.6" cy="500.0" rx="28.8" ry="48.0" fill="url(#w140)" fill-opacity="0.2297"/>
<ellipse cx="1902.5" cy="500.0" rx="28.8" ry="48.0" fill="url(#w140)" fill-opacity="0.265"/>
<ellipse cx="1909.4" cy="500.0" rx="28.8" ry="48.0" fill="url(#w140)" fill-opacity="0.2702"/>
<ellipse cx="1916.4" cy="500.0" rx="28.8" ry="48.0" fill="url(#w140)" fill-opacity="0.2731"/>
<ellipse cx="1923.3" cy="500.0" rx="28.8" ry="48.0" fill="url(#w140)" fill-opacity="0.2759"/>
<ellipse cx="1930.2" cy="500.0" rx="28.8" ry="48.0" fill="url(#w140)" fill-opacity="0.2788"/>
<ellipse cx="1937.2" cy="500.0" rx="28.8" ry="48.0" fill="url(#w140)" fill-opacity="0.2816"/>
<ellipse cx="1944.1" cy="500.0" rx="28.8" ry="48.0" fill="url(#w140)" fill-opacity="0.2844"/>
<ellipse cx="1951.0" cy="500.0" rx="28.8" ry="48.0" fill="url(#w140)" fill-opacity="0.2808"/>
<ellipse cx="1958.0" cy="500.0" rx="28.8" ry="48.0" fill="url(#w140)" fill-opacity="0.2773"/>
<ellipse cx="1964.9" cy="500.0" rx="28.8" ry="48.0" fill="url(#w140)" fill-opacity="0.2738"/>
<ellipse cx="1971.8" cy="500.0" rx="28.8" ry="48.0" fill="url(#w140)" fill-opacity="0.2702"/>
<ellipse cx="1978.8" cy="500.0" rx="28.8" ry="48.0" fill="url(#w140)" fill-opacity="0.258"/>
<ellipse cx="1985.7" cy="500.0" rx="28.8" ry="48.0" fill="url(#w140)" fill-opacity="0.2202"/>
<ellipse cx="1992.6" cy="500.0" rx="28.8" ry="48.0" fill="url(#w140)" fill-opacity="0.1867"/>
<ellipse cx="1999.5" cy="500.0" rx="28.8" ry="48.0" fill="url(#w140)" fill-opacity="0.1678"/>
<ellipse cx="2006.5" cy="500.0" rx="28.8" ry="48.0" fill="url(#w140)" fill-opacity="0.1494"/>
<ellipse cx="2013.4" cy="500.0" rx="28.8" ry="48.0" fill="url(#w140)" fill-opacity="0.1328"/>
<ellipse cx="2020.3" cy="500.0" rx="28.8" ry="48.0" fill="url(#w140)" fill-opacity="0.1163"/>
<ellipse cx="2027.3" cy="500.0" rx="28.8" ry="48.0" fill="url(#w140)" fill-opacity="0.0894"/>
<ellipse cx="2034.2" cy="500.0" rx="28.8" ry="48.0" fill="url(#w140)" fill-opacity="0.0615"/>
<ellipse cx="2041.1" cy="500.0" rx="28.8" ry="48.0" fill="url(#w140)" fill-opacity="0.0353"/>
<ellipse cx="2048.1" cy="500.0" rx="28.8" ry="48.0" fill="url(#w140)" fill-opacity="0.0177"/>
<ellipse cx="1873" cy="366" rx="155.5" ry="46.8" fill="url(#w110)" fill-opacity="0.3"/>
<ellipse cx="1990" cy="355" rx="138.2" ry="39.0" fill="url(#w100)" fill-opacity="0.15" transform="rotate(-10 1990 355)"/>
<ellipse cx="2064" cy="333" rx="86.4" ry="39.0" fill="url(#w100)" fill-opacity="0.13" transform="rotate(-15 2064 333)"/>
<ellipse cx="1915" cy="307" rx="103.7" ry="39.0" fill="url(#w100)" fill-opacity="0.08"/>
<ellipse cx="1873" cy="560" rx="121.0" ry="46.8" fill="url(#w110)" fill-opacity="0.32"/>
<ellipse cx="1956.9" cy="556.5" rx="28.8" ry="41.6" fill="url(#w100)" fill-opacity="0.0195" transform="rotate(3.8 1956.9 556.5)"/>
<ellipse cx="1963.7" cy="556.9" rx="28.8" ry="41.6" fill="url(#w100)" fill-opacity="0.0391" transform="rotate(3.8 1963.7 556.9)"/>
<ellipse cx="1970.6" cy="557.7" rx="28.8" ry="41.6" fill="url(#w100)" fill-opacity="0.045" transform="rotate(7.6 1970.6 557.7)"/>
<ellipse cx="1977.4" cy="558.7" rx="28.8" ry="41.6" fill="url(#w100)" fill-opacity="0.0477" transform="rotate(7.6 1977.4 558.7)"/>
<ellipse cx="1984.2" cy="559.6" rx="28.8" ry="41.6" fill="url(#w100)" fill-opacity="0.0505" transform="rotate(7.6 1984.2 559.6)"/>
<ellipse cx="1991.0" cy="560.5" rx="28.8" ry="41.6" fill="url(#w100)" fill-opacity="0.0533" transform="rotate(7.6 1991.0 560.5)"/>
<ellipse cx="1997.7" cy="562.0" rx="28.8" ry="41.6" fill="url(#w100)" fill-opacity="0.0544" transform="rotate(20.1 1997.7 562.0)"/>
<ellipse cx="2004.2" cy="564.4" rx="28.8" ry="41.6" fill="url(#w100)" fill-opacity="0.053" transform="rotate(20.1 2004.2 564.4)"/>
<ellipse cx="2010.6" cy="566.7" rx="28.8" ry="41.6" fill="url(#w100)" fill-opacity="0.0517" transform="rotate(20.1 2010.6 566.7)"/>
<ellipse cx="2017.1" cy="569.1" rx="28.8" ry="41.6" fill="url(#w100)" fill-opacity="0.0504" transform="rotate(20.1 2017.1 569.1)"/>
<ellipse cx="2023.5" cy="571.5" rx="28.8" ry="41.6" fill="url(#w100)" fill-opacity="0.0491" transform="rotate(20.1 2023.5 571.5)"/>
<ellipse cx="2029.6" cy="574.7" rx="28.8" ry="41.6" fill="url(#w100)" fill-opacity="0.0482" transform="rotate(31.0 2029.6 574.7)"/>
<ellipse cx="2035.5" cy="578.3" rx="28.8" ry="41.6" fill="url(#w100)" fill-opacity="0.0475" transform="rotate(31.0 2035.5 578.3)"/>
<ellipse cx="2041.4" cy="581.8" rx="28.8" ry="41.6" fill="url(#w100)" fill-opacity="0.0468" transform="rotate(31.0 2041.4 581.8)"/>
<ellipse cx="2047.3" cy="585.4" rx="28.8" ry="41.6" fill="url(#w100)" fill-opacity="0.0461" transform="rotate(31.0 2047.3 585.4)"/>
<ellipse cx="2053.4" cy="588.5" rx="28.8" ry="41.6" fill="url(#w100)" fill-opacity="0.0447" transform="rotate(24.2 2053.4 588.5)"/>
<ellipse cx="2059.6" cy="591.3" rx="28.8" ry="41.6" fill="url(#w100)" fill-opacity="0.0428" transform="rotate(24.2 2059.6 591.3)"/>
<ellipse cx="2065.9" cy="594.2" rx="28.8" ry="41.6" fill="url(#w100)" fill-opacity="0.0409" transform="rotate(24.2 2065.9 594.2)"/>
<ellipse cx="2072.2" cy="596.9" rx="28.8" ry="41.6" fill="url(#w100)" fill-opacity="0.0338" transform="rotate(21.8 2072.2 596.9)"/>
<ellipse cx="2078.6" cy="599.4" rx="28.8" ry="41.6" fill="url(#w100)" fill-opacity="0.0169" transform="rotate(21.8 2078.6 599.4)"/>
<ellipse cx="1934" cy="619" rx="76.0" ry="39.0" fill="url(#w100)" fill-opacity="0.08"/>
<ellipse cx="2175" cy="428" rx="76.0" ry="42.9" fill="url(#w100)" fill-opacity="0.1"/>
<ellipse cx="2182" cy="499" rx="76.0" ry="42.9" fill="url(#w100)" fill-opacity="0.1"/>
<ellipse cx="1774" cy="650" rx="86.4" ry="46.8" fill="url(#w100)" fill-opacity="0.07"/>
<ellipse cx="1774" cy="274" rx="86.4" ry="46.8" fill="url(#w100)" fill-opacity="0.07"/>
</g></g>
<rect x="432.6" y="262.3" width="1785.8" height="406.20000000000005" fill="none" stroke="#b4b8e6" stroke-opacity="0.8" stroke-width="1.8"/>
<g font-family="Liberation Serif, 'Times New Roman', serif" font-weight="bold" fill="#000">
<text x="10.68" y="92.70" font-size="107" textLength="127.84" lengthAdjust="spacingAndGlyphs">(a)</text>
<text x="9.46" y="890.80" font-size="106.5" textLength="134.47" lengthAdjust="spacingAndGlyphs">(b)</text>
<text x="421.12" y="148.90" font-size="85.5" textLength="41.76" lengthAdjust="spacingAndGlyphs">0</text>
<text x="2176.92" y="149.60" font-size="86.5" textLength="40.47" lengthAdjust="spacingAndGlyphs">1</text>
<text x="319.87" y="310.00" font-size="86" textLength="81.43" lengthAdjust="spacingAndGlyphs">92</text>
<text x="360.79" y="496.00" font-size="84" textLength="42.12" lengthAdjust="spacingAndGlyphs">0</text>
<text x="267.50" y="683.00" font-size="85" textLength="133.97" lengthAdjust="spacingAndGlyphs">−92</text>
<text x="376.34" y="757.40" font-size="87" textLength="130.78" lengthAdjust="spacingAndGlyphs">230</text>
<text x="870.63" y="757.40" font-size="87" textLength="131.20" lengthAdjust="spacingAndGlyphs">260</text>
<text x="1660.90" y="757.10" font-size="87" textLength="131.85" lengthAdjust="spacingAndGlyphs">310</text>
<text x="2131.10" y="757.10" font-size="87" textLength="131.85" lengthAdjust="spacingAndGlyphs">340</text>
<text x="1201.02" y="829.00" font-size="86" textLength="242.94" lengthAdjust="spacingAndGlyphs">Z(mm)</text>
<text x="297.03" y="933.90" font-size="84.6" textLength="105.66" lengthAdjust="spacingAndGlyphs">1.5</text>
<text x="296.68" y="1172.80" font-size="86" textLength="106.46" lengthAdjust="spacingAndGlyphs">1.0</text>
<text x="294.36" y="1412.30" font-size="84" textLength="106.36" lengthAdjust="spacingAndGlyphs">0.5</text>
<text x="294.46" y="1651.80" font-size="85" textLength="106.28" lengthAdjust="spacingAndGlyphs">0.0</text>
<text x="359.96" y="1745.80" font-size="84" textLength="135.01" lengthAdjust="spacingAndGlyphs">−50</text>
<text x="1300.29" y="1745.20" font-size="83" textLength="42.12" lengthAdjust="spacingAndGlyphs">0</text>
<text x="2159.67" y="1745.90" font-size="84" textLength="85.59" lengthAdjust="spacingAndGlyphs">50</text>
<text x="941.49" y="1843.60" font-size="85" textLength="758.15" lengthAdjust="spacingAndGlyphs">Spatial direction(μm)</text>
<text x="1771.11" y="954.70" font-size="57" textLength="363.18" lengthAdjust="spacing">The first focus</text>
<text x="1771.11" y="1026.40" font-size="57" textLength="427.68" lengthAdjust="spacing">The second focus</text>
<text x="1771.11" y="1098.00" font-size="57" textLength="386.18" lengthAdjust="spacing">The third focus</text>
<text x="1771.11" y="1169.00" font-size="57" textLength="417.88" lengthAdjust="spacing">The fourth focus</text>
<text x="233.10" y="585.66" font-size="84" textLength="231.30" lengthAdjust="spacingAndGlyphs" transform="rotate(-90 233.10 585.66)">Y(μm)</text>
<text x="233.50" y="1573.41" font-size="82" textLength="635.87" lengthAdjust="spacingAndGlyphs" transform="rotate(-90 233.50 1573.41)">Intensity/arb.units</text>
</g>
<path d="M438 1147.2H457M2209 1147.2H2190M438 1391.0H457M2209 1391.0H2190M1323.5 903.5V921.0M1323.5 1634.8V1617.3" stroke="#000" stroke-width="7.2" fill="none"/>
<g clip-path="url(#axclip)">
<path d="M438.0 1620.7C442.7 1620.5 455.9 1620.0 466.1 1619.7C476.3 1619.5 488.4 1619.4 499.4 1619.2C510.3 1619.0 520.9 1619.3 531.8 1618.8C542.7 1618.2 554.1 1617.3 565.0 1615.9C575.9 1614.5 586.6 1612.9 597.4 1610.2C608.2 1607.5 618.8 1604.4 629.7 1599.8C640.6 1595.2 652.1 1589.0 663.0 1582.7C673.9 1576.4 684.5 1570.9 695.3 1561.7C706.1 1552.5 716.9 1540.3 727.7 1527.5C738.5 1514.7 749.1 1500.6 760.0 1484.7C770.9 1468.8 782.3 1449.2 793.3 1432.0C804.2 1414.8 814.8 1399.3 825.7 1381.6C836.7 1363.9 848.2 1344.0 859.0 1325.6C869.8 1307.2 879.9 1287.8 890.7 1271.2C901.5 1254.6 913.2 1239.2 924.0 1225.8C934.8 1212.4 944.9 1199.8 955.7 1191.1C966.5 1182.4 977.9 1176.3 989.0 1173.8C1000.1 1171.3 1011.2 1171.6 1022.3 1176.0C1033.4 1180.4 1044.7 1189.3 1055.5 1200.1C1066.3 1210.9 1076.5 1224.4 1087.3 1241.0C1098.1 1257.6 1109.7 1278.5 1120.5 1299.9C1131.3 1321.3 1141.4 1345.8 1152.2 1369.5C1163.0 1393.2 1174.7 1417.9 1185.5 1442.1C1196.3 1466.3 1206.5 1493.3 1217.3 1514.7C1228.1 1536.1 1239.4 1555.2 1250.5 1570.6C1261.6 1586.0 1273.0 1597.3 1283.8 1606.9C1294.6 1616.5 1304.9 1625.5 1315.5 1628.0C1326.1 1630.5 1336.3 1628.0 1347.3 1622.0C1358.3 1616.0 1370.2 1605.3 1381.4 1592.0C1392.6 1578.7 1403.9 1561.4 1414.7 1541.9C1425.5 1522.5 1435.6 1498.2 1446.4 1475.3C1457.2 1452.4 1468.9 1427.7 1479.7 1404.3C1490.5 1380.9 1500.6 1356.6 1511.4 1334.7C1522.2 1312.8 1533.6 1292.4 1544.7 1272.7C1555.8 1253.0 1567.2 1231.2 1578.0 1216.8C1588.8 1202.4 1598.9 1192.3 1609.7 1186.5C1620.5 1180.7 1631.8 1181.0 1642.9 1182.0C1654.0 1183.0 1665.1 1185.8 1676.2 1192.6C1687.3 1199.4 1698.7 1211.0 1709.5 1222.8C1720.3 1234.6 1730.4 1248.2 1741.2 1263.6C1752.0 1279.0 1763.7 1297.4 1774.5 1315.1C1785.3 1332.8 1795.4 1351.6 1806.2 1369.5C1817.0 1387.4 1828.7 1405.1 1839.5 1422.4C1850.3 1439.7 1860.5 1457.5 1871.2 1473.5C1881.9 1489.5 1892.5 1505.3 1903.5 1518.7C1914.5 1532.1 1926.0 1543.5 1937.1 1554.1C1948.1 1564.7 1958.9 1574.3 1969.8 1582.2C1980.7 1590.1 1991.5 1596.2 2002.4 1601.3C2013.3 1606.4 2024.2 1609.8 2035.1 1613.1C2046.0 1616.4 2056.8 1619.1 2067.7 1621.2C2078.6 1623.3 2089.5 1624.9 2100.4 1625.8C2111.3 1626.7 2122.2 1626.5 2133.1 1626.7C2144.0 1626.9 2154.8 1626.7 2165.7 1626.7C2176.6 1626.7 2191.2 1626.6 2198.4 1626.7C2205.6 1626.8 2207.2 1627.4 2209.0 1627.6" stroke="#ff1a00" stroke-width="8.6" fill="none" stroke-linejoin="round"/>
<g fill="#ff1a00"><circle cx="466.1" cy="1619.7" r="6.8"/><circle cx="499.4" cy="1619.2" r="6.8"/><circle cx="531.8" cy="1618.8" r="6.8"/><circle cx="565" cy="1615.9" r="6.8"/><circle cx="597.4" cy="1610.2" r="6.8"/><circle cx="629.7" cy="1599.8" r="6.8"/><circle cx="663" cy="1582.7" r="6.8"/><circle cx="695.3" cy="1561.7" r="6.8"/><circle cx="727.7" cy="1527.5" r="6.8"/><circle cx="760" cy="1484.7" r="6.8"/><circle cx="793.3" cy="1432" r="6.8"/><circle cx="825.7" cy="1381.6" r="6.8"/><circle cx="859" cy="1325.6" r="6.8"/><circle cx="890.7" cy="1271.2" r="6.8"/><circle cx="924" cy="1225.8" r="6.8"/><circle cx="955.7" cy="1191.1" r="6.8"/><circle cx="989" cy="1173.8" r="6.8"/><circle cx="1022.3" cy="1176" r="6.8"/><circle cx="1055.5" cy="1200.1" r="6.8"/><circle cx="1087.3" cy="1241" r="6.8"/><circle cx="1120.5" cy="1299.9" r="6.8"/><circle cx="1152.2" cy="1369.5" r="6.8"/><circle cx="1185.5" cy="1442.1" r="6.8"/><circle cx="1217.3" cy="1514.7" r="6.8"/><circle cx="1250.5" cy="1570.6" r="6.8"/><circle cx="1283.8" cy="1606.9" r="6.8"/><circle cx="1315.5" cy="1628" r="6.8"/><circle cx="1347.3" cy="1622" r="6.8"/><circle cx="1381.4" cy="1592" r="6.8"/><circle cx="1414.7" cy="1541.9" r="6.8"/><circle cx="1446.4" cy="1475.3" r="6.8"/><circle cx="1479.7" cy="1404.3" r="6.8"/><circle cx="1511.4" cy="1334.7" r="6.8"/><circle cx="1544.7" cy="1272.7" r="6.8"/><circle cx="1578" cy="1216.8" r="6.8"/><circle cx="1609.7" cy="1186.5" r="6.8"/><circle cx="1642.9" cy="1182" r="6.8"/><circle cx="1676.2" cy="1192.6" r="6.8"/><circle cx="1709.5" cy="1222.8" r="6.8"/><circle cx="1741.2" cy="1263.6" r="6.8"/><circle cx="1774.5" cy="1315.1" r="6.8"/><circle cx="1806.2" cy="1369.5" r="6.8"/><circle cx="1839.5" cy="1422.4" r="6.8"/><circle cx="1871.2" cy="1473.5" r="6.8"/><circle cx="1903.5" cy="1518.7" r="6.8"/><circle cx="1937.1" cy="1554.1" r="6.8"/><circle cx="1969.8" cy="1582.2" r="6.8"/><circle cx="2002.4" cy="1601.3" r="6.8"/><circle cx="2035.1" cy="1613.1" r="6.8"/><circle cx="2067.7" cy="1621.2" r="6.8"/><circle cx="2100.4" cy="1625.8" r="6.8"/><circle cx="2133.1" cy="1626.7" r="6.8"/><circle cx="2165.7" cy="1626.7" r="6.8"/><circle cx="2198.4" cy="1626.7" r="6.8"/></g>
<g fill="#fff"><circle cx="466.1" cy="1619.7" r="1.5"/><circle cx="499.4" cy="1619.2" r="1.5"/><circle cx="531.8" cy="1618.8" r="1.5"/><circle cx="565" cy="1615.9" r="1.5"/><circle cx="597.4" cy="1610.2" r="1.5"/><circle cx="629.7" cy="1599.8" r="1.5"/><circle cx="663" cy="1582.7" r="1.5"/><circle cx="695.3" cy="1561.7" r="1.5"/><circle cx="727.7" cy="1527.5" r="1.5"/><circle cx="760" cy="1484.7" r="1.5"/><circle cx="793.3" cy="1432" r="1.5"/><circle cx="825.7" cy="1381.6" r="1.5"/><circle cx="859" cy="1325.6" r="1.5"/><circle cx="890.7" cy="1271.2" r="1.5"/><circle cx="924" cy="1225.8" r="1.5"/><circle cx="955.7" cy="1191.1" r="1.5"/><circle cx="989" cy="1173.8" r="1.5"/><circle cx="1022.3" cy="1176" r="1.5"/><circle cx="1055.5" cy="1200.1" r="1.5"/><circle cx="1087.3" cy="1241" r="1.5"/><circle cx="1120.5" cy="1299.9" r="1.5"/><circle cx="1152.2" cy="1369.5" r="1.5"/><circle cx="1185.5" cy="1442.1" r="1.5"/><circle cx="1217.3" cy="1514.7" r="1.5"/><circle cx="1250.5" cy="1570.6" r="1.5"/><circle cx="1283.8" cy="1606.9" r="1.5"/><circle cx="1315.5" cy="1628" r="1.5"/><circle cx="1347.3" cy="1622" r="1.5"/><circle cx="1381.4" cy="1592" r="1.5"/><circle cx="1414.7" cy="1541.9" r="1.5"/><circle cx="1446.4" cy="1475.3" r="1.5"/><circle cx="1479.7" cy="1404.3" r="1.5"/><circle cx="1511.4" cy="1334.7" r="1.5"/><circle cx="1544.7" cy="1272.7" r="1.5"/><circle cx="1578" cy="1216.8" r="1.5"/><circle cx="1609.7" cy="1186.5" r="1.5"/><circle cx="1642.9" cy="1182" r="1.5"/><circle cx="1676.2" cy="1192.6" r="1.5"/><circle cx="1709.5" cy="1222.8" r="1.5"/><circle cx="1741.2" cy="1263.6" r="1.5"/><circle cx="1774.5" cy="1315.1" r="1.5"/><circle cx="1806.2" cy="1369.5" r="1.5"/><circle cx="1839.5" cy="1422.4" r="1.5"/><circle cx="1871.2" cy="1473.5" r="1.5"/><circle cx="1903.5" cy="1518.7" r="1.5"/><circle cx="1937.1" cy="1554.1" r="1.5"/><circle cx="1969.8" cy="1582.2" r="1.5"/><circle cx="2002.4" cy="1601.3" r="1.5"/><circle cx="2035.1" cy="1613.1" r="1.5"/><circle cx="2067.7" cy="1621.2" r="1.5"/><circle cx="2100.4" cy="1625.8" r="1.5"/><circle cx="2133.1" cy="1626.7" r="1.5"/><circle cx="2165.7" cy="1626.7" r="1.5"/><circle cx="2198.4" cy="1626.7" r="1.5"/></g>
<path d="M438.0 1605.5C442.7 1604.9 455.9 1602.8 466.1 1601.7C476.3 1600.6 488.4 1599.8 499.4 1598.8C510.3 1597.8 520.9 1597.1 531.8 1596.0C542.7 1594.9 554.1 1593.8 565.0 1592.2C575.9 1590.6 586.6 1588.4 597.4 1586.5C608.2 1584.6 618.8 1583.2 629.7 1580.7C640.6 1578.2 652.1 1576.1 663.0 1571.2C673.9 1566.3 684.5 1558.6 695.3 1551.3C706.1 1544.0 716.9 1536.5 727.7 1527.5C738.5 1518.5 749.1 1508.6 760.0 1497.0C770.9 1485.4 782.3 1472.3 793.3 1458.1C804.2 1443.9 814.8 1427.8 825.7 1411.8C836.7 1395.8 848.2 1379.0 859.0 1361.9C869.8 1344.8 879.9 1326.1 890.7 1309.0C901.5 1291.9 913.2 1274.2 924.0 1259.1C934.8 1244.0 944.9 1229.6 955.7 1218.3C966.5 1207.0 977.9 1197.1 989.0 1191.1C1000.1 1185.0 1011.2 1181.5 1022.3 1182.0C1033.4 1182.5 1044.7 1186.3 1055.5 1194.1C1066.3 1201.9 1076.5 1213.8 1087.3 1228.9C1098.1 1244.0 1109.7 1264.1 1120.5 1284.8C1131.3 1305.5 1141.4 1329.0 1152.2 1352.9C1163.0 1376.9 1174.7 1403.3 1185.5 1428.5C1196.3 1453.7 1206.5 1480.9 1217.3 1504.1C1228.1 1527.3 1239.4 1548.9 1250.5 1567.6C1261.6 1586.2 1273.0 1605.4 1283.8 1616.0C1294.6 1626.6 1304.9 1629.7 1315.5 1631.0C1326.1 1632.3 1336.3 1630.5 1347.3 1624.0C1358.3 1617.5 1370.2 1606.5 1381.4 1592.0C1392.6 1577.5 1403.9 1557.2 1414.7 1537.0C1425.5 1516.8 1435.6 1494.7 1446.4 1470.8C1457.2 1446.9 1468.9 1418.7 1479.7 1393.7C1490.5 1368.8 1500.6 1342.5 1511.4 1321.1C1522.2 1299.7 1533.6 1281.1 1544.7 1265.2C1555.8 1249.3 1567.2 1235.4 1578.0 1225.8C1588.8 1216.2 1598.9 1210.2 1609.7 1207.7C1620.5 1205.2 1631.8 1206.7 1642.9 1210.7C1654.0 1214.7 1665.1 1222.3 1676.2 1231.9C1687.3 1241.5 1698.7 1254.9 1709.5 1268.2C1720.3 1281.5 1730.4 1296.6 1741.2 1312.0C1752.0 1327.4 1763.7 1344.5 1774.5 1360.4C1785.3 1376.3 1795.4 1392.4 1806.2 1407.3C1817.0 1422.2 1828.7 1436.4 1839.5 1449.6C1850.3 1462.8 1860.5 1475.4 1871.2 1486.5C1881.9 1497.6 1892.5 1507.3 1903.5 1516.0C1914.5 1524.7 1926.0 1532.2 1937.1 1538.7C1948.1 1545.2 1958.9 1550.5 1969.8 1555.0C1980.7 1559.5 1991.5 1562.6 2002.4 1565.9C2013.3 1569.2 2024.2 1572.9 2035.1 1575.0C2046.0 1577.1 2056.8 1577.2 2067.7 1578.6C2078.6 1579.9 2089.5 1581.7 2100.4 1583.1C2111.3 1584.5 2122.2 1585.4 2133.1 1586.8C2144.0 1588.2 2154.8 1589.6 2165.7 1591.3C2176.6 1593.0 2191.2 1595.5 2198.4 1596.7C2205.6 1597.9 2207.2 1598.3 2209.0 1598.6" stroke="#ffb400" stroke-width="8.6" fill="none" stroke-linejoin="round"/>
<g fill="#ffb400"><circle cx="466.1" cy="1601.7" r="6.8"/><circle cx="499.4" cy="1598.8" r="6.8"/><circle cx="531.8" cy="1596" r="6.8"/><circle cx="565" cy="1592.2" r="6.8"/><circle cx="597.4" cy="1586.5" r="6.8"/><circle cx="629.7" cy="1580.7" r="6.8"/><circle cx="663" cy="1571.2" r="6.8"/><circle cx="695.3" cy="1551.3" r="6.8"/><circle cx="727.7" cy="1527.5" r="6.8"/><circle cx="760" cy="1497" r="6.8"/><circle cx="793.3" cy="1458.1" r="6.8"/><circle cx="825.7" cy="1411.8" r="6.8"/><circle cx="859" cy="1361.9" r="6.8"/><circle cx="890.7" cy="1309" r="6.8"/><circle cx="924" cy="1259.1" r="6.8"/><circle cx="955.7" cy="1218.3" r="6.8"/><circle cx="989" cy="1191.1" r="6.8"/><circle cx="1022.3" cy="1182" r="6.8"/><circle cx="1055.5" cy="1194.1" r="6.8"/><circle cx="1087.3" cy="1228.9" r="6.8"/><circle cx="1120.5" cy="1284.8" r="6.8"/><circle cx="1152.2" cy="1352.9" r="6.8"/><circle cx="1185.5" cy="1428.5" r="6.8"/><circle cx="1217.3" cy="1504.1" r="6.8"/><circle cx="1250.5" cy="1567.6" r="6.8"/><circle cx="1283.8" cy="1616" r="6.8"/><circle cx="1315.5" cy="1631" r="6.8"/><circle cx="1347.3" cy="1624" r="6.8"/><circle cx="1381.4" cy="1592" r="6.8"/><circle cx="1414.7" cy="1537" r="6.8"/><circle cx="1446.4" cy="1470.8" r="6.8"/><circle cx="1479.7" cy="1393.7" r="6.8"/><circle cx="1511.4" cy="1321.1" r="6.8"/><circle cx="1544.7" cy="1265.2" r="6.8"/><circle cx="1578" cy="1225.8" r="6.8"/><circle cx="1609.7" cy="1207.7" r="6.8"/><circle cx="1642.9" cy="1210.7" r="6.8"/><circle cx="1676.2" cy="1231.9" r="6.8"/><circle cx="1709.5" cy="1268.2" r="6.8"/><circle cx="1741.2" cy="1312" r="6.8"/><circle cx="1774.5" cy="1360.4" r="6.8"/><circle cx="1806.2" cy="1407.3" r="6.8"/><circle cx="1839.5" cy="1449.6" r="6.8"/><circle cx="1871.2" cy="1486.5" r="6.8"/><circle cx="1903.5" cy="1516" r="6.8"/><circle cx="1937.1" cy="1538.7" r="6.8"/><circle cx="1969.8" cy="1555" r="6.8"/><circle cx="2002.4" cy="1565.9" r="6.8"/><circle cx="2035.1" cy="1575" r="6.8"/><circle cx="2067.7" cy="1578.6" r="6.8"/><circle cx="2100.4" cy="1583.1" r="6.8"/><circle cx="2133.1" cy="1586.8" r="6.8"/><circle cx="2165.7" cy="1591.3" r="6.8"/><circle cx="2198.4" cy="1596.7" r="6.8"/></g>
<g fill="#fff"><circle cx="466.1" cy="1601.7" r="1.5"/><circle cx="499.4" cy="1598.8" r="1.5"/><circle cx="531.8" cy="1596" r="1.5"/><circle cx="565" cy="1592.2" r="1.5"/><circle cx="597.4" cy="1586.5" r="1.5"/><circle cx="629.7" cy="1580.7" r="1.5"/><circle cx="663" cy="1571.2" r="1.5"/><circle cx="695.3" cy="1551.3" r="1.5"/><circle cx="727.7" cy="1527.5" r="1.5"/><circle cx="760" cy="1497" r="1.5"/><circle cx="793.3" cy="1458.1" r="1.5"/><circle cx="825.7" cy="1411.8" r="1.5"/><circle cx="859" cy="1361.9" r="1.5"/><circle cx="890.7" cy="1309" r="1.5"/><circle cx="924" cy="1259.1" r="1.5"/><circle cx="955.7" cy="1218.3" r="1.5"/><circle cx="989" cy="1191.1" r="1.5"/><circle cx="1022.3" cy="1182" r="1.5"/><circle cx="1055.5" cy="1194.1" r="1.5"/><circle cx="1087.3" cy="1228.9" r="1.5"/><circle cx="1120.5" cy="1284.8" r="1.5"/><circle cx="1152.2" cy="1352.9" r="1.5"/><circle cx="1185.5" cy="1428.5" r="1.5"/><circle cx="1217.3" cy="1504.1" r="1.5"/><circle cx="1250.5" cy="1567.6" r="1.5"/><circle cx="1283.8" cy="1616" r="1.5"/><circle cx="1315.5" cy="1631" r="1.5"/><circle cx="1347.3" cy="1624" r="1.5"/><circle cx="1381.4" cy="1592" r="1.5"/><circle cx="1414.7" cy="1537" r="1.5"/><circle cx="1446.4" cy="1470.8" r="1.5"/><circle cx="1479.7" cy="1393.7" r="1.5"/><circle cx="1511.4" cy="1321.1" r="1.5"/><circle cx="1544.7" cy="1265.2" r="1.5"/><circle cx="1578" cy="1225.8" r="1.5"/><circle cx="1609.7" cy="1207.7" r="1.5"/><circle cx="1642.9" cy="1210.7" r="1.5"/><circle cx="1676.2" cy="1231.9" r="1.5"/><circle cx="1709.5" cy="1268.2" r="1.5"/><circle cx="1741.2" cy="1312" r="1.5"/><circle cx="1774.5" cy="1360.4" r="1.5"/><circle cx="1806.2" cy="1407.3" r="1.5"/><circle cx="1839.5" cy="1449.6" r="1.5"/><circle cx="1871.2" cy="1486.5" r="1.5"/><circle cx="1903.5" cy="1516" r="1.5"/><circle cx="1937.1" cy="1538.7" r="1.5"/><circle cx="1969.8" cy="1555" r="1.5"/><circle cx="2002.4" cy="1565.9" r="1.5"/><circle cx="2035.1" cy="1575" r="1.5"/><circle cx="2067.7" cy="1578.6" r="1.5"/><circle cx="2100.4" cy="1583.1" r="1.5"/><circle cx="2133.1" cy="1586.8" r="1.5"/><circle cx="2165.7" cy="1591.3" r="1.5"/><circle cx="2198.4" cy="1596.7" r="1.5"/></g>
<path d="M438.0 1596.0C442.7 1593.3 455.9 1585.5 466.1 1579.8C476.3 1574.1 488.4 1567.4 499.4 1561.7C510.3 1556.0 520.9 1549.4 531.8 1545.6C542.7 1541.8 554.1 1540.5 565.0 1538.9C575.9 1537.3 586.6 1534.6 597.4 1536.0C608.2 1537.4 618.8 1542.4 629.7 1547.5C640.6 1552.6 652.1 1559.0 663.0 1566.5C673.9 1574.0 684.5 1584.1 695.3 1592.2C706.1 1600.3 716.9 1609.1 727.7 1615.0C738.5 1620.9 749.1 1625.0 760.0 1627.4C770.9 1629.8 782.3 1632.8 793.3 1629.3C804.2 1625.8 814.8 1617.5 825.7 1606.2C836.7 1594.9 848.2 1580.5 859.0 1561.5C869.8 1542.5 879.9 1517.5 890.7 1492.0C901.5 1466.5 913.2 1437.3 924.0 1408.8C934.8 1380.3 944.9 1349.1 955.7 1321.1C966.5 1293.1 977.9 1264.7 989.0 1241.0C1000.1 1217.3 1011.2 1194.6 1022.3 1179.0C1033.4 1163.4 1044.7 1152.0 1055.5 1147.2C1066.3 1142.4 1076.5 1142.6 1087.3 1150.2C1098.1 1157.8 1109.7 1173.7 1120.5 1192.6C1131.3 1211.5 1141.4 1236.6 1152.2 1263.6C1163.0 1290.6 1174.7 1323.1 1185.5 1354.4C1196.3 1385.7 1206.5 1420.5 1217.3 1451.2C1228.1 1481.9 1239.4 1514.5 1250.5 1538.8C1261.6 1563.1 1273.0 1581.9 1283.8 1597.0C1294.6 1612.1 1304.9 1626.1 1315.5 1629.5C1326.1 1632.9 1336.3 1627.1 1347.3 1617.5C1358.3 1607.9 1370.2 1592.3 1381.4 1572.1C1392.6 1551.9 1403.9 1524.2 1414.7 1496.5C1425.5 1468.8 1435.6 1436.0 1446.4 1405.8C1457.2 1375.6 1468.9 1343.3 1479.7 1315.1C1490.5 1286.9 1500.6 1257.8 1511.4 1236.4C1522.2 1215.0 1533.6 1197.8 1544.7 1186.5C1555.8 1175.2 1567.2 1168.2 1578.0 1168.4C1588.8 1168.7 1598.9 1176.4 1609.7 1188.0C1620.5 1199.6 1631.8 1217.7 1642.9 1237.9C1654.0 1258.1 1665.1 1283.3 1676.2 1309.0C1687.3 1334.7 1698.7 1364.7 1709.5 1392.2C1720.3 1419.7 1730.4 1448.3 1741.2 1473.8C1752.0 1499.2 1763.7 1524.2 1774.5 1544.9C1785.3 1565.6 1795.4 1585.0 1806.2 1597.8C1817.0 1610.6 1828.7 1616.4 1839.5 1622.0C1850.3 1627.6 1860.5 1631.8 1871.2 1631.2C1881.9 1630.6 1892.5 1624.1 1903.5 1618.5C1914.5 1612.9 1926.0 1605.3 1937.1 1597.6C1948.1 1589.9 1958.9 1579.9 1969.8 1572.2C1980.7 1564.5 1991.5 1557.1 2002.4 1551.4C2013.3 1545.7 2024.2 1540.4 2035.1 1537.8C2046.0 1535.2 2056.8 1535.2 2067.7 1536.0C2078.6 1536.8 2089.5 1537.9 2100.4 1542.3C2111.3 1546.7 2122.2 1556.7 2133.1 1562.3C2144.0 1567.9 2154.8 1570.8 2165.7 1575.9C2176.6 1581.0 2191.2 1589.5 2198.4 1593.1C2205.6 1596.7 2207.2 1596.8 2209.0 1597.6" stroke="#00b92e" stroke-width="8.6" fill="none" stroke-linejoin="round"/>
<g fill="#00b92e"><circle cx="466.1" cy="1579.8" r="6.8"/><circle cx="499.4" cy="1561.7" r="6.8"/><circle cx="531.8" cy="1545.6" r="6.8"/><circle cx="565" cy="1538.9" r="6.8"/><circle cx="597.4" cy="1536" r="6.8"/><circle cx="629.7" cy="1547.5" r="6.8"/><circle cx="663" cy="1566.5" r="6.8"/><circle cx="695.3" cy="1592.2" r="6.8"/><circle cx="727.7" cy="1615" r="6.8"/><circle cx="760" cy="1627.4" r="6.8"/><circle cx="793.3" cy="1629.3" r="6.8"/><circle cx="825.7" cy="1606.2" r="6.8"/><circle cx="859" cy="1561.5" r="6.8"/><circle cx="890.7" cy="1492" r="6.8"/><circle cx="924" cy="1408.8" r="6.8"/><circle cx="955.7" cy="1321.1" r="6.8"/><circle cx="989" cy="1241" r="6.8"/><circle cx="1022.3" cy="1179" r="6.8"/><circle cx="1055.5" cy="1147.2" r="6.8"/><circle cx="1087.3" cy="1150.2" r="6.8"/><circle cx="1120.5" cy="1192.6" r="6.8"/><circle cx="1152.2" cy="1263.6" r="6.8"/><circle cx="1185.5" cy="1354.4" r="6.8"/><circle cx="1217.3" cy="1451.2" r="6.8"/><circle cx="1250.5" cy="1538.8" r="6.8"/><circle cx="1283.8" cy="1597" r="6.8"/><circle cx="1315.5" cy="1629.5" r="6.8"/><circle cx="1347.3" cy="1617.5" r="6.8"/><circle cx="1381.4" cy="1572.1" r="6.8"/><circle cx="1414.7" cy="1496.5" r="6.8"/><circle cx="1446.4" cy="1405.8" r="6.8"/><circle cx="1479.7" cy="1315.1" r="6.8"/><circle cx="1511.4" cy="1236.4" r="6.8"/><circle cx="1544.7" cy="1186.5" r="6.8"/><circle cx="1578" cy="1168.4" r="6.8"/><circle cx="1609.7" cy="1188" r="6.8"/><circle cx="1642.9" cy="1237.9" r="6.8"/><circle cx="1676.2" cy="1309" r="6.8"/><circle cx="1709.5" cy="1392.2" r="6.8"/><circle cx="1741.2" cy="1473.8" r="6.8"/><circle cx="1774.5" cy="1544.9" r="6.8"/><circle cx="1806.2" cy="1597.8" r="6.8"/><circle cx="1839.5" cy="1622" r="6.8"/><circle cx="1871.2" cy="1631.2" r="6.8"/><circle cx="1903.5" cy="1618.5" r="6.8"/><circle cx="1937.1" cy="1597.6" r="6.8"/><circle cx="1969.8" cy="1572.2" r="6.8"/><circle cx="2002.4" cy="1551.4" r="6.8"/><circle cx="2035.1" cy="1537.8" r="6.8"/><circle cx="2067.7" cy="1536" r="6.8"/><circle cx="2100.4" cy="1542.3" r="6.8"/><circle cx="2133.1" cy="1562.3" r="6.8"/><circle cx="2165.7" cy="1575.9" r="6.8"/><circle cx="2198.4" cy="1593.1" r="6.8"/></g>
<g fill="#fff"><circle cx="466.1" cy="1579.8" r="1.5"/><circle cx="499.4" cy="1561.7" r="1.5"/><circle cx="531.8" cy="1545.6" r="1.5"/><circle cx="565" cy="1538.9" r="1.5"/><circle cx="597.4" cy="1536" r="1.5"/><circle cx="629.7" cy="1547.5" r="1.5"/><circle cx="663" cy="1566.5" r="1.5"/><circle cx="695.3" cy="1592.2" r="1.5"/><circle cx="727.7" cy="1615" r="1.5"/><circle cx="760" cy="1627.4" r="1.5"/><circle cx="793.3" cy="1629.3" r="1.5"/><circle cx="825.7" cy="1606.2" r="1.5"/><circle cx="859" cy="1561.5" r="1.5"/><circle cx="890.7" cy="1492" r="1.5"/><circle cx="924" cy="1408.8" r="1.5"/><circle cx="955.7" cy="1321.1" r="1.5"/><circle cx="989" cy="1241" r="1.5"/><circle cx="1022.3" cy="1179" r="1.5"/><circle cx="1055.5" cy="1147.2" r="1.5"/><circle cx="1087.3" cy="1150.2" r="1.5"/><circle cx="1120.5" cy="1192.6" r="1.5"/><circle cx="1152.2" cy="1263.6" r="1.5"/><circle cx="1185.5" cy="1354.4" r="1.5"/><circle cx="1217.3" cy="1451.2" r="1.5"/><circle cx="1250.5" cy="1538.8" r="1.5"/><circle cx="1283.8" cy="1597" r="1.5"/><circle cx="1315.5" cy="1629.5" r="1.5"/><circle cx="1347.3" cy="1617.5" r="1.5"/><circle cx="1381.4" cy="1572.1" r="1.5"/><circle cx="1414.7" cy="1496.5" r="1.5"/><circle cx="1446.4" cy="1405.8" r="1.5"/><circle cx="1479.7" cy="1315.1" r="1.5"/><circle cx="1511.4" cy="1236.4" r="1.5"/><circle cx="1544.7" cy="1186.5" r="1.5"/><circle cx="1578" cy="1168.4" r="1.5"/><circle cx="1609.7" cy="1188" r="1.5"/><circle cx="1642.9" cy="1237.9" r="1.5"/><circle cx="1676.2" cy="1309" r="1.5"/><circle cx="1709.5" cy="1392.2" r="1.5"/><circle cx="1741.2" cy="1473.8" r="1.5"/><circle cx="1774.5" cy="1544.9" r="1.5"/><circle cx="1806.2" cy="1597.8" r="1.5"/><circle cx="1839.5" cy="1622" r="1.5"/><circle cx="1871.2" cy="1631.2" r="1.5"/><circle cx="1903.5" cy="1618.5" r="1.5"/><circle cx="1937.1" cy="1597.6" r="1.5"/><circle cx="1969.8" cy="1572.2" r="1.5"/><circle cx="2002.4" cy="1551.4" r="1.5"/><circle cx="2035.1" cy="1537.8" r="1.5"/><circle cx="2067.7" cy="1536" r="1.5"/><circle cx="2100.4" cy="1542.3" r="1.5"/><circle cx="2133.1" cy="1562.3" r="1.5"/><circle cx="2165.7" cy="1575.9" r="1.5"/><circle cx="2198.4" cy="1593.1" r="1.5"/></g>
<path d="M438.0 1571.2C442.7 1568.3 455.9 1559.5 466.1 1554.1C476.3 1548.7 488.4 1542.4 499.4 1538.9C510.3 1535.4 520.9 1533.4 531.8 1533.2C542.7 1533.0 554.1 1535.2 565.0 1538.0C575.9 1540.8 586.6 1544.8 597.4 1550.3C608.2 1555.8 618.8 1563.6 629.7 1571.2C640.6 1578.8 652.1 1588.4 663.0 1596.0C673.9 1603.6 684.5 1611.5 695.3 1617.0C706.1 1622.5 716.9 1627.4 727.7 1629.3C738.5 1631.2 749.1 1631.9 760.0 1628.3C770.9 1624.7 782.3 1617.5 793.3 1607.4C804.2 1597.3 814.8 1583.7 825.7 1567.5C836.7 1551.3 848.2 1531.8 859.0 1510.1C869.8 1488.4 879.9 1462.5 890.7 1437.5C901.5 1412.5 913.2 1385.9 924.0 1360.4C934.8 1335.0 944.9 1307.5 955.7 1284.8C966.5 1262.1 977.9 1240.9 989.0 1224.3C1000.1 1207.7 1011.2 1193.4 1022.3 1185.0C1033.4 1176.6 1044.7 1172.5 1055.5 1173.8C1066.3 1175.1 1076.5 1181.6 1087.3 1192.6C1098.1 1203.5 1109.7 1220.3 1120.5 1239.5C1131.3 1258.7 1141.4 1282.6 1152.2 1307.5C1163.0 1332.4 1174.7 1361.4 1185.5 1389.1C1196.3 1416.8 1206.5 1447.3 1217.3 1473.8C1228.1 1500.3 1239.4 1526.7 1250.5 1547.9C1261.6 1569.1 1273.0 1587.5 1283.8 1600.8C1294.6 1614.1 1304.9 1624.4 1315.5 1628.0C1326.1 1631.6 1336.3 1629.0 1347.3 1622.5C1358.3 1616.0 1370.2 1604.2 1381.4 1588.7C1392.6 1573.2 1403.9 1552.0 1414.7 1529.8C1425.5 1507.6 1435.6 1480.9 1446.4 1455.7C1457.2 1430.5 1468.9 1403.5 1479.7 1378.6C1490.5 1353.6 1500.6 1327.2 1511.4 1306.0C1522.2 1284.8 1533.6 1265.6 1544.7 1251.5C1555.8 1237.4 1567.2 1226.6 1578.0 1221.3C1588.8 1216.0 1598.9 1216.0 1609.7 1219.8C1620.5 1223.6 1631.8 1232.2 1642.9 1244.0C1654.0 1255.8 1665.1 1272.2 1676.2 1290.9C1687.3 1309.6 1698.7 1333.5 1709.5 1355.9C1720.3 1378.3 1730.4 1402.5 1741.2 1425.4C1752.0 1448.3 1763.7 1472.6 1774.5 1493.5C1785.3 1514.4 1795.4 1534.0 1806.2 1550.9C1817.0 1567.8 1828.7 1583.3 1839.5 1594.8C1850.3 1606.3 1860.5 1614.5 1871.2 1620.0C1881.9 1625.5 1892.5 1627.4 1903.5 1627.6C1914.5 1627.8 1926.0 1625.0 1937.1 1621.2C1948.1 1617.4 1958.9 1611.1 1969.8 1604.9C1980.7 1598.7 1991.5 1590.5 2002.4 1584.0C2013.3 1577.5 2024.2 1571.2 2035.1 1565.9C2046.0 1560.6 2056.8 1555.5 2067.7 1552.3C2078.6 1549.1 2089.5 1547.1 2100.4 1546.8C2111.3 1546.5 2122.2 1548.1 2133.1 1550.5C2144.0 1552.9 2154.8 1556.9 2165.7 1561.4C2176.6 1565.9 2191.2 1574.2 2198.4 1577.7C2205.6 1581.2 2207.2 1581.5 2209.0 1582.2" stroke="#1428bc" stroke-width="8.6" fill="none" stroke-linejoin="round"/>
<g fill="#1428bc"><circle cx="466.1" cy="1554.1" r="6.8"/><circle cx="499.4" cy="1538.9" r="6.8"/><circle cx="531.8" cy="1533.2" r="6.8"/><circle cx="565" cy="1538" r="6.8"/><circle cx="597.4" cy="1550.3" r="6.8"/><circle cx="629.7" cy="1571.2" r="6.8"/><circle cx="663" cy="1596" r="6.8"/><circle cx="695.3" cy="1617" r="6.8"/><circle cx="727.7" cy="1629.3" r="6.8"/><circle cx="760" cy="1628.3" r="6.8"/><circle cx="793.3" cy="1607.4" r="6.8"/><circle cx="825.7" cy="1567.5" r="6.8"/><circle cx="859" cy="1510.1" r="6.8"/><circle cx="890.7" cy="1437.5" r="6.8"/><circle cx="924" cy="1360.4" r="6.8"/><circle cx="955.7" cy="1284.8" r="6.8"/><circle cx="989" cy="1224.3" r="6.8"/><circle cx="1022.3" cy="1185" r="6.8"/><circle cx="1055.5" cy="1173.8" r="6.8"/><circle cx="1087.3" cy="1192.6" r="6.8"/><circle cx="1120.5" cy="1239.5" r="6.8"/><circle cx="1152.2" cy="1307.5" r="6.8"/><circle cx="1185.5" cy="1389.1" r="6.8"/><circle cx="1217.3" cy="1473.8" r="6.8"/><circle cx="1250.5" cy="1547.9" r="6.8"/><circle cx="1283.8" cy="1600.8" r="6.8"/><circle cx="1315.5" cy="1628" r="6.8"/><circle cx="1347.3" cy="1622.5" r="6.8"/><circle cx="1381.4" cy="1588.7" r="6.8"/><circle cx="1414.7" cy="1529.8" r="6.8"/><circle cx="1446.4" cy="1455.7" r="6.8"/><circle cx="1479.7" cy="1378.6" r="6.8"/><circle cx="1511.4" cy="1306" r="6.8"/><circle cx="1544.7" cy="1251.5" r="6.8"/><circle cx="1578" cy="1221.3" r="6.8"/><circle cx="1609.7" cy="1219.8" r="6.8"/><circle cx="1642.9" cy="1244" r="6.8"/><circle cx="1676.2" cy="1290.9" r="6.8"/><circle cx="1709.5" cy="1355.9" r="6.8"/><circle cx="1741.2" cy="1425.4" r="6.8"/><circle cx="1774.5" cy="1493.5" r="6.8"/><circle cx="1806.2" cy="1550.9" r="6.8"/><circle cx="1839.5" cy="1594.8" r="6.8"/><circle cx="1871.2" cy="1620" r="6.8"/><circle cx="1903.5" cy="1627.6" r="6.8"/><circle cx="1937.1" cy="1621.2" r="6.8"/><circle cx="1969.8" cy="1604.9" r="6.8"/><circle cx="2002.4" cy="1584" r="6.8"/><circle cx="2035.1" cy="1565.9" r="6.8"/><circle cx="2067.7" cy="1552.3" r="6.8"/><circle cx="2100.4" cy="1546.8" r="6.8"/><circle cx="2133.1" cy="1550.5" r="6.8"/><circle cx="2165.7" cy="1561.4" r="6.8"/><circle cx="2198.4" cy="1577.7" r="6.8"/></g>
<g fill="#fff"><circle cx="466.1" cy="1554.1" r="1.5"/><circle cx="499.4" cy="1538.9" r="1.5"/><circle cx="531.8" cy="1533.2" r="1.5"/><circle cx="565" cy="1538" r="1.5"/><circle cx="597.4" cy="1550.3" r="1.5"/><circle cx="629.7" cy="1571.2" r="1.5"/><circle cx="663" cy="1596" r="1.5"/><circle cx="695.3" cy="1617" r="1.5"/><circle cx="727.7" cy="1629.3" r="1.5"/><circle cx="760" cy="1628.3" r="1.5"/><circle cx="793.3" cy="1607.4" r="1.5"/><circle cx="825.7" cy="1567.5" r="1.5"/><circle cx="859" cy="1510.1" r="1.5"/><circle cx="890.7" cy="1437.5" r="1.5"/><circle cx="924" cy="1360.4" r="1.5"/><circle cx="955.7" cy="1284.8" r="1.5"/><circle cx="989" cy="1224.3" r="1.5"/><circle cx="1022.3" cy="1185" r="1.5"/><circle cx="1055.5" cy="1173.8" r="1.5"/><circle cx="1087.3" cy="1192.6" r="1.5"/><circle cx="1120.5" cy="1239.5" r="1.5"/><circle cx="1152.2" cy="1307.5" r="1.5"/><circle cx="1185.5" cy="1389.1" r="1.5"/><circle cx="1217.3" cy="1473.8" r="1.5"/><circle cx="1250.5" cy="1547.9" r="1.5"/><circle cx="1283.8" cy="1600.8" r="1.5"/><circle cx="1315.5" cy="1628" r="1.5"/><circle cx="1347.3" cy="1622.5" r="1.5"/><circle cx="1381.4" cy="1588.7" r="1.5"/><circle cx="1414.7" cy="1529.8" r="1.5"/><circle cx="1446.4" cy="1455.7" r="1.5"/><circle cx="1479.7" cy="1378.6" r="1.5"/><circle cx="1511.4" cy="1306" r="1.5"/><circle cx="1544.7" cy="1251.5" r="1.5"/><circle cx="1578" cy="1221.3" r="1.5"/><circle cx="1609.7" cy="1219.8" r="1.5"/><circle cx="1642.9" cy="1244" r="1.5"/><circle cx="1676.2" cy="1290.9" r="1.5"/><circle cx="1709.5" cy="1355.9" r="1.5"/><circle cx="1741.2" cy="1425.4" r="1.5"/><circle cx="1774.5" cy="1493.5" r="1.5"/><circle cx="1806.2" cy="1550.9" r="1.5"/><circle cx="1839.5" cy="1594.8" r="1.5"/><circle cx="1871.2" cy="1620" r="1.5"/><circle cx="1903.5" cy="1627.6" r="1.5"/><circle cx="1937.1" cy="1621.2" r="1.5"/><circle cx="1969.8" cy="1604.9" r="1.5"/><circle cx="2002.4" cy="1584" r="1.5"/><circle cx="2035.1" cy="1565.9" r="1.5"/><circle cx="2067.7" cy="1552.3" r="1.5"/><circle cx="2100.4" cy="1546.8" r="1.5"/><circle cx="2133.1" cy="1550.5" r="1.5"/><circle cx="2165.7" cy="1561.4" r="1.5"/><circle cx="2198.4" cy="1577.7" r="1.5"/></g>
</g>
<rect x="438" y="903.5" width="1771" height="731.3" fill="none" stroke="#000" stroke-width="7.6"/>
<path d="M1620 935.0H1758" stroke="#ff1a00" stroke-width="8.6"/>
<circle cx="1688" cy="935.0" r="6.8" fill="#ff1a00"/><circle cx="1688" cy="935.0" r="1.5" fill="#fff"/>
<path d="M1620 1005.8H1758" stroke="#ffb400" stroke-width="8.6"/>
<circle cx="1688" cy="1005.8" r="6.8" fill="#ffb400"/><circle cx="1688" cy="1005.8" r="1.5" fill="#fff"/>
<path d="M1620 1077.6H1758" stroke="#00b92e" stroke-width="8.6"/>
<circle cx="1688" cy="1077.6" r="6.8" fill="#00b92e"/><circle cx="1688" cy="1077.6" r="1.5" fill="#fff"/>
<path d="M1620 1149.0H1758" stroke="#1428bc" stroke-width="8.6"/>
<circle cx="1688" cy="1149.0" r="6.8" fill="#1428bc"/><circle cx="1688" cy="1149.0" r="1.5" fill="#fff"/>
</svg></body></html>
